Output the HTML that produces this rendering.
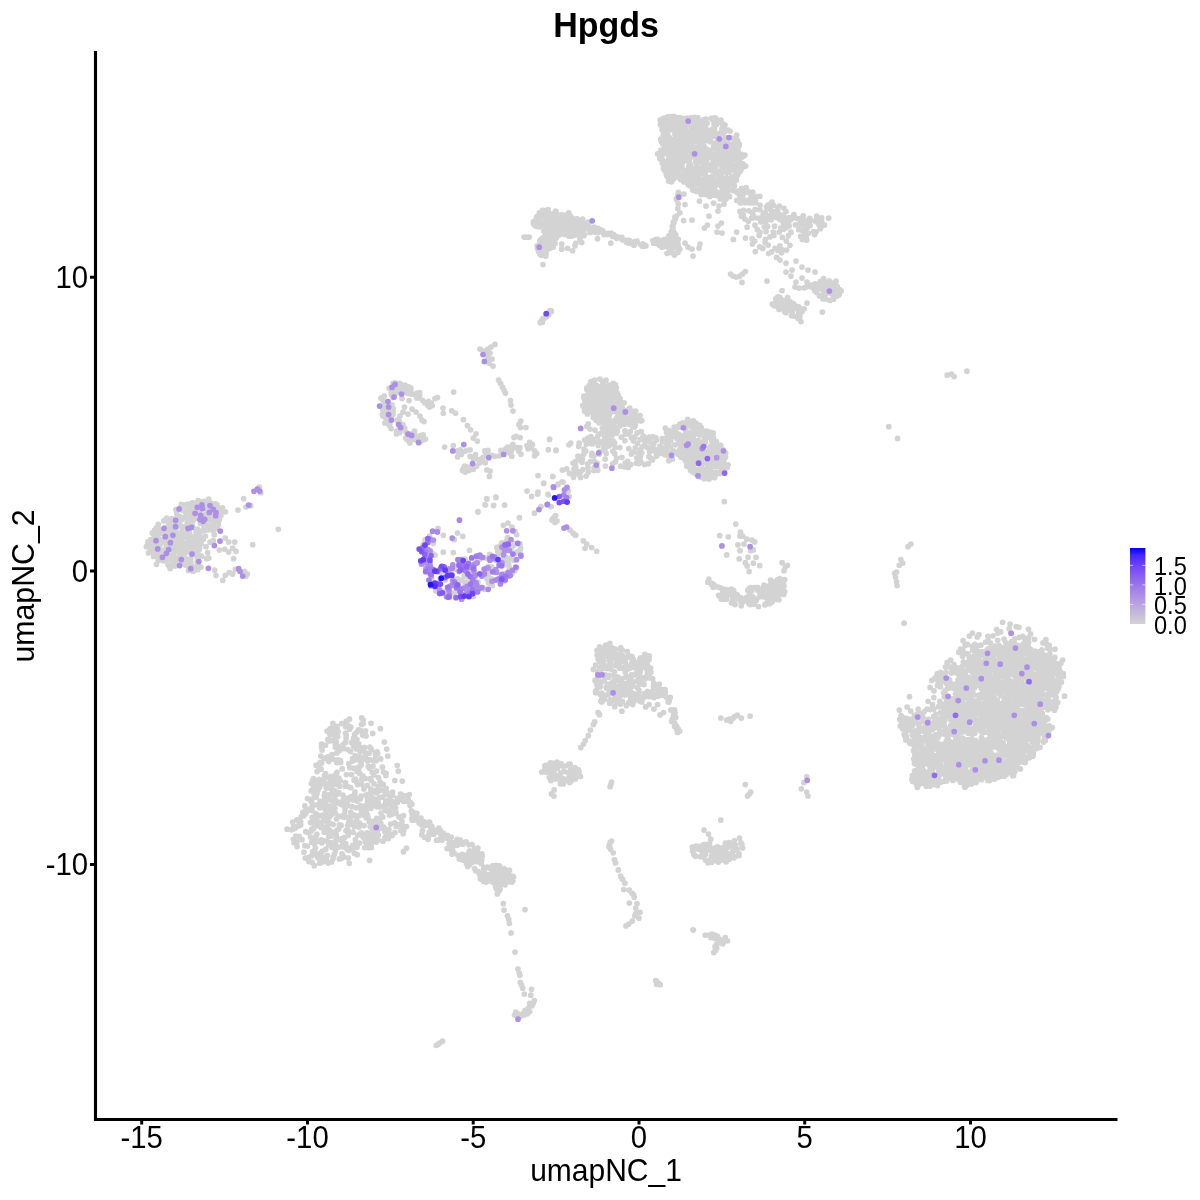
<!DOCTYPE html>
<html><head><meta charset="utf-8"><title>Hpgds</title>
<style>
html,body{margin:0;padding:0;background:#fff;}
body{width:1200px;height:1200px;overflow:hidden;font-family:"Liberation Sans",sans-serif;}
svg{display:block;}
text{font-family:"Liberation Sans",sans-serif;fill:#000;}
</style></head><body>
<svg width="1200" height="1200" viewBox="0 0 1200 1200">
<defs><linearGradient id="lg" x1="0" y1="1" x2="0" y2="0">
<stop offset="0" stop-color="#d3d3d3"/><stop offset="0.128" stop-color="#c8bbda"/><stop offset="0.256" stop-color="#bba4e1"/><stop offset="0.385" stop-color="#ac8ce7"/><stop offset="0.513" stop-color="#9b75ec"/><stop offset="0.641" stop-color="#875df2"/><stop offset="0.769" stop-color="#6e44f7"/><stop offset="0.897" stop-color="#4a27fb"/><stop offset="1" stop-color="#0000ff"/>
</linearGradient></defs>
<rect width="1200" height="1200" fill="#fff"/>
<g id="dots" fill="none" stroke-width="5.75" stroke-linecap="round">
<path stroke="#d3d3d3" d="M726.2 171.6h0M665.8 144.4h0M698.6 160.0h0M716.7 145.3h0M700.5 131.5h0M716.3 133.6h0M697.8 117.5h0M743.7 155.9h0M698.1 175.4h0M694.0 190.4h0M698.7 183.8h0M672.7 174.1h0M666.7 127.8h0M665.3 141.0h0M705.8 130.7h0M683.0 141.5h0M712.1 191.0h0M734.4 139.3h0M697.8 155.7h0M682.0 142.3h0M669.7 170.1h0M663.7 139.1h0M727.6 192.4h0M690.0 131.7h0M735.3 168.4h0M701.8 142.5h0M687.9 139.1h0M725.1 155.1h0M724.2 188.6h0M736.4 179.9h0M693.9 141.8h0M707.0 164.8h0M671.7 155.8h0M741.5 154.3h0M674.9 143.6h0M668.9 137.0h0M721.7 168.3h0M671.1 179.9h0M739.2 164.8h0M720.9 132.6h0M711.5 167.3h0M678.1 126.4h0M725.7 159.6h0M696.0 155.1h0M726.8 186.0h0M693.2 180.6h0M745.6 166.1h0M736.1 172.2h0M676.5 150.3h0M734.1 182.3h0M723.0 126.0h0M705.5 193.4h0M712.2 176.4h0M718.6 179.7h0M674.5 165.8h0M678.0 123.3h0M740.7 155.7h0M711.9 129.6h0M682.8 169.5h0M682.4 179.8h0M730.4 152.7h0M693.1 128.6h0M680.2 120.5h0M722.7 183.2h0M733.2 178.9h0M669.9 155.2h0M696.1 157.7h0M719.7 173.2h0M719.8 195.2h0M728.5 180.6h0M694.8 185.7h0M664.9 171.0h0M702.9 132.4h0M690.2 181.0h0M716.3 149.3h0M719.0 177.7h0M696.8 191.4h0M696.9 130.3h0M720.4 183.0h0M680.5 179.4h0M684.8 120.5h0M701.0 151.5h0M689.0 124.8h0M694.8 149.7h0M676.7 144.1h0M705.2 151.4h0M732.9 168.4h0M667.4 153.5h0M715.5 172.7h0M665.1 152.3h0M700.4 192.4h0M671.2 147.0h0M676.6 158.4h0M720.7 171.6h0M668.7 175.7h0M714.2 195.1h0M713.9 122.2h0M718.2 142.9h0M706.9 153.2h0M726.1 198.8h0M687.7 176.4h0M737.6 146.4h0M737.6 167.7h0M684.9 127.1h0M688.9 170.2h0M707.7 169.4h0M713.3 168.0h0M744.9 155.0h0M662.1 129.7h0M676.8 177.0h0M725.2 183.9h0M695.5 162.1h0M711.2 187.7h0M680.9 164.8h0M727.2 145.9h0M722.6 163.7h0M689.7 158.6h0M703.8 185.1h0M684.5 129.1h0M732.9 149.3h0M731.8 158.2h0M687.0 130.8h0M687.5 133.6h0M701.1 155.6h0M708.4 130.6h0M702.9 129.7h0M665.5 123.8h0M727.4 184.4h0M673.9 172.6h0M666.1 148.5h0M704.6 121.7h0M694.8 122.0h0M722.2 123.4h0M686.6 175.4h0M660.6 153.9h0M683.2 176.9h0M697.2 173.3h0M661.5 160.1h0M675.9 122.0h0M721.3 156.1h0M694.5 130.5h0M734.8 148.5h0M740.0 163.0h0M720.9 120.1h0M668.7 157.5h0M717.7 140.7h0M678.8 137.1h0M663.2 153.6h0M715.3 168.2h0M686.0 152.0h0M671.3 139.3h0M698.2 179.1h0M720.9 192.9h0M684.6 131.7h0M698.0 124.7h0M694.9 179.3h0M706.2 188.4h0M717.3 192.5h0M687.2 143.6h0M708.3 158.0h0M670.0 138.8h0M678.7 147.7h0M703.9 182.8h0M735.9 139.4h0M666.1 153.4h0M692.6 189.7h0M726.9 172.7h0M699.7 145.8h0M685.2 180.6h0M667.5 116.8h0M702.1 125.9h0M697.3 158.3h0M696.3 181.0h0M730.8 162.5h0M720.9 159.6h0M706.0 182.1h0M707.8 136.1h0M659.8 156.9h0M666.7 168.5h0M686.3 137.6h0M708.3 185.6h0M726.7 179.7h0M712.7 186.7h0M733.6 176.6h0M686.0 142.2h0M717.3 151.0h0M698.9 150.4h0M713.2 162.4h0M673.4 140.2h0M721.6 173.3h0M681.9 159.4h0M689.3 156.6h0M674.7 125.0h0M672.9 163.2h0M724.4 199.8h0M721.6 186.8h0M681.6 150.2h0M705.1 179.6h0M690.0 138.1h0M682.8 134.1h0M705.7 156.6h0M671.6 181.8h0M679.5 117.7h0M672.6 146.8h0M718.8 157.1h0M704.8 192.1h0M720.5 198.9h0M674.9 134.0h0M702.5 190.8h0M673.2 169.7h0M727.9 186.7h0M696.8 119.4h0M723.3 155.8h0M711.1 131.7h0M721.4 176.7h0M667.4 176.6h0M735.6 165.2h0M671.3 165.3h0M702.6 194.2h0M733.9 143.7h0M709.5 195.0h0M733.2 164.5h0M699.5 134.3h0M676.6 127.9h0M708.1 187.5h0M711.0 150.4h0M680.6 137.4h0M741.2 164.9h0M707.5 156.7h0M739.6 160.4h0M700.5 181.3h0M715.2 181.4h0M699.1 125.3h0M730.4 149.0h0M702.5 188.2h0M666.9 143.5h0M690.1 148.5h0M693.2 148.0h0M739.2 172.0h0M717.6 119.9h0M737.9 172.7h0M716.8 162.9h0M719.5 192.5h0M710.3 140.6h0M685.2 176.7h0M690.2 165.0h0M676.6 142.0h0M727.6 167.1h0M704.2 129.9h0M680.5 178.0h0M727.1 194.9h0M703.5 119.8h0M735.8 176.4h0M690.4 135.1h0M730.7 144.8h0M671.1 159.0h0M686.5 177.9h0M737.5 140.6h0M684.7 118.7h0M709.5 141.6h0M714.7 135.4h0M699.7 121.1h0M672.2 161.7h0M697.5 148.6h0M708.4 150.9h0M708.3 178.2h0M716.6 124.5h0M726.2 144.9h0M705.9 168.2h0M688.8 175.3h0M709.8 196.4h0M682.1 118.3h0M690.6 179.7h0M664.8 131.0h0M660.2 120.1h0M693.5 183.4h0M668.6 177.9h0M668.2 171.2h0M678.1 170.5h0M678.9 146.2h0M683.3 151.9h0M686.8 119.8h0M682.1 163.4h0M666.9 123.1h0M667.9 135.7h0M742.0 167.9h0M734.4 186.1h0M697.1 125.5h0M667.1 132.7h0M715.1 161.0h0M738.1 152.4h0M687.2 160.9h0M688.1 178.7h0M684.9 148.3h0M702.9 158.0h0M697.4 136.9h0M707.5 193.2h0M675.3 152.9h0M717.8 174.5h0M688.5 166.5h0M704.9 149.7h0M703.8 180.4h0M707.1 177.0h0M743.7 166.0h0M693.1 135.6h0M705.4 186.9h0M692.2 173.9h0M724.2 160.1h0M721.6 180.8h0M724.7 151.4h0M663.3 168.4h0M721.3 194.9h0M725.1 143.4h0M684.6 157.0h0M724.3 127.2h0M702.8 135.3h0M676.4 119.4h0M713.7 145.9h0M673.7 123.8h0M712.0 154.0h0M692.6 124.4h0M732.4 144.0h0M702.0 172.9h0M695.7 141.1h0M722.5 165.7h0M691.3 172.0h0M681.7 175.5h0M713.8 118.2h0M739.2 145.6h0M702.4 171.1h0M704.1 133.1h0M694.2 168.1h0M687.2 154.4h0M729.1 172.3h0M707.0 180.7h0M663.2 135.6h0M685.8 171.0h0M710.9 166.0h0M689.2 161.7h0M729.7 161.2h0M722.4 133.9h0M691.4 117.7h0M671.3 163.3h0M724.3 181.8h0M705.6 171.9h0M722.6 140.4h0M713.7 147.7h0M676.2 167.2h0M701.3 139.9h0M689.8 122.0h0M703.6 125.1h0M666.5 138.9h0M707.1 123.1h0M727.9 155.0h0M702.1 148.5h0M660.7 150.4h0M696.5 163.7h0M711.4 189.6h0M679.9 135.0h0M714.3 167.1h0M670.1 164.2h0M734.9 171.3h0M731.3 182.9h0M657.6 153.8h0M663.6 151.5h0M664.4 122.4h0M678.3 135.1h0M677.6 146.1h0M731.9 177.0h0M700.5 158.5h0M732.7 151.2h0M714.5 128.9h0M715.1 120.5h0M713.3 179.5h0M692.7 154.8h0M685.6 172.5h0M717.9 152.9h0M671.4 154.1h0M714.3 185.9h0M714.0 165.2h0M694.6 136.9h0M705.2 148.0h0M698.8 161.9h0M660.4 124.7h0M670.2 144.9h0M672.0 171.8h0M739.1 167.5h0M726.0 188.5h0M662.1 139.2h0M720.6 181.5h0M732.5 183.7h0M671.4 157.5h0M706.6 138.0h0M693.7 127.3h0M688.1 184.4h0M668.7 181.0h0M675.2 117.7h0M713.0 136.2h0M714.2 126.1h0M708.8 132.5h0M729.5 196.7h0M661.4 141.8h0M676.7 154.9h0M729.9 189.4h0M724.8 131.6h0M663.5 132.2h0M675.7 147.2h0M663.9 118.2h0M682.0 137.6h0M675.9 157.1h0M730.3 146.4h0M721.8 197.6h0M679.4 132.9h0M725.7 186.5h0M717.5 195.8h0M663.4 125.2h0M695.0 147.5h0M735.9 142.8h0M713.0 177.9h0M726.5 148.2h0M681.9 165.8h0M701.1 188.1h0M737.3 164.7h0M695.6 131.3h0M665.9 161.8h0M725.7 167.0h0M677.0 129.6h0M711.8 170.4h0M709.6 168.5h0M705.0 176.5h0M697.0 176.9h0M734.5 155.1h0M722.6 190.0h0M677.2 163.8h0M664.5 166.5h0M699.0 122.7h0M692.1 138.6h0M722.7 171.7h0M697.3 142.1h0M698.2 182.0h0M712.5 157.8h0M699.6 178.6h0M671.6 124.5h0M739.2 144.0h0M723.9 193.0h0M699.4 172.2h0M665.3 146.2h0M720.1 141.9h0M707.2 182.4h0M709.3 181.0h0M710.8 154.6h0M723.6 157.9h0M729.6 179.7h0M701.0 183.6h0M692.5 130.8h0M720.5 152.1h0M726.5 178.1h0M697.8 139.0h0M669.5 148.9h0M701.3 130.5h0M721.1 148.8h0M732.3 155.9h0M728.3 162.6h0M692.9 146.6h0M682.6 157.1h0M671.1 129.5h0M670.5 116.7h0M678.3 174.4h0M676.1 168.9h0M688.9 152.9h0M736.6 135.2h0M738.6 159.1h0M725.0 124.8h0M660.7 139.1h0M727.2 151.8h0M688.3 148.9h0M692.5 178.0h0M716.1 123.0h0M670.4 173.8h0M735.4 147.4h0M722.0 130.3h0M701.2 134.4h0M674.1 128.9h0M727.5 181.3h0M672.0 140.6h0M730.1 131.1h0M698.4 129.4h0M725.7 137.5h0M681.5 138.9h0M680.1 118.9h0M681.2 176.9h0M695.3 128.3h0M701.3 194.6h0M731.8 138.0h0M706.9 191.3h0M662.2 119.2h0M697.3 160.0h0M706.5 140.4h0M674.0 149.8h0M664.7 142.2h0M713.4 143.0h0M728.4 189.2h0M670.0 124.6h0M694.6 119.6h0M717.7 171.7h0M660.8 121.7h0M681.4 130.7h0M704.4 134.3h0M729.0 164.9h0M737.3 155.3h0M663.9 128.1h0M711.1 180.3h0M711.6 181.9h0M690.0 119.8h0M662.8 143.9h0M679.8 141.5h0M728.2 130.1h0M666.9 141.4h0M738.4 157.5h0M716.9 184.8h0M724.9 157.8h0M668.5 121.8h0M740.6 170.8h0M737.6 174.8h0M738.0 149.9h0M675.8 159.6h0M669.9 157.7h0M677.2 139.4h0M691.9 121.0h0M706.5 194.7h0M688.1 119.2h0M719.6 174.5h0M671.3 144.3h0M706.7 184.7h0M705.5 152.7h0M715.1 117.9h0M698.4 190.2h0M681.2 156.7h0M711.4 118.3h0M680.2 153.1h0M699.4 168.3h0M673.5 144.0h0M670.1 178.0h0M691.4 126.7h0M724.0 179.8h0M679.7 163.2h0M662.1 126.2h0M721.0 164.0h0M676.5 120.7h0M664.4 148.2h0M668.2 173.3h0M664.0 134.1h0M670.7 162.0h0M710.9 184.9h0M722.0 128.6h0M732.1 181.2h0M706.4 161.7h0M694.3 133.8h0M692.8 137.3h0M715.3 190.6h0M659.8 158.5h0M682.0 125.7h0M683.3 123.3h0M687.2 145.0h0M725.6 196.4h0M668.2 167.0h0M683.9 181.8h0M723.1 178.1h0M691.6 150.7h0M675.7 171.6h0M716.0 165.6h0M693.5 156.6h0M716.8 154.0h0M720.0 145.3h0M687.4 118.0h0M697.1 134.5h0M665.4 126.4h0M722.7 151.7h0M687.1 156.7h0M706.9 149.7h0M712.3 163.8h0M679.9 156.5h0M683.8 149.3h0M743.0 163.8h0M684.2 175.1h0M680.5 169.8h0M673.9 116.4h0M705.5 169.5h0M702.4 183.6h0M676.8 117.7h0M673.3 153.3h0M721.3 144.7h0M713.4 181.5h0M717.2 181.2h0M716.2 171.5h0M705.2 157.8h0M666.4 175.0h0M727.8 143.1h0M722.9 144.0h0M673.4 179.0h0M695.2 170.1h0M694.0 188.2h0M689.7 185.7h0M705.6 127.1h0M717.1 137.0h0M702.8 165.6h0M694.9 152.5h0M700.5 153.8h0M711.2 195.2h0M735.6 159.2h0M742.2 156.9h0M704.2 160.7h0M672.7 159.3h0M691.6 142.0h0M684.9 125.4h0M701.1 123.0h0M671.2 120.4h0M695.9 175.7h0M729.7 151.4h0M716.4 156.0h0M734.6 180.8h0M705.9 119.1h0M718.0 155.0h0M738.3 169.1h0M733.3 190.7h0M681.9 145.4h0M730.4 163.7h0M675.0 138.3h0M731.3 169.0h0M668.2 164.4h0M723.5 146.8h0M701.6 159.6h0M698.1 126.8h0M712.9 119.9h0M697.8 140.8h0M694.3 117.3h0M662.3 163.2h0M662.1 158.6h0M703.9 145.8h0M722.2 161.5h0M808.5 233.3h0M773.3 217.0h0M806.2 224.7h0M824.4 225.0h0M798.3 226.3h0M752.4 213.1h0M758.9 218.2h0M741.4 216.2h0M819.6 219.0h0M746.6 191.8h0M753.7 216.2h0M793.9 214.6h0M766.4 206.9h0M783.2 215.3h0M803.2 230.7h0M740.1 191.4h0M779.8 214.6h0M798.8 229.7h0M740.2 198.5h0M804.3 221.3h0M740.2 200.7h0M797.2 218.6h0M804.7 235.1h0M750.4 193.8h0M783.4 224.8h0M777.8 207.4h0M746.2 187.7h0M802.3 239.5h0M780.1 219.5h0M738.5 190.9h0M737.3 192.6h0M814.5 234.5h0M766.1 218.8h0M821.7 222.8h0M759.9 196.3h0M809.7 218.3h0M790.7 219.6h0M786.8 218.0h0M804.9 229.1h0M804.9 226.1h0M801.4 218.0h0M807.3 227.8h0M759.9 209.6h0M769.0 215.9h0M741.8 199.5h0M739.2 194.6h0M800.6 236.3h0M748.9 210.8h0M779.1 217.9h0M749.2 202.8h0M744.9 219.1h0M789.1 225.9h0M816.1 231.8h0M802.2 222.6h0M784.0 208.3h0M819.1 223.0h0M803.4 224.5h0M817.0 222.0h0M795.4 224.8h0M742.6 195.4h0M816.7 216.0h0M755.2 202.7h0M777.1 214.8h0M808.0 220.2h0M763.4 217.5h0M763.8 213.0h0M771.1 219.8h0M806.4 220.9h0M768.2 218.9h0M785.8 221.5h0M752.6 202.9h0M813.6 231.6h0M783.2 218.0h0M777.7 210.2h0M765.3 212.3h0M736.8 200.4h0M815.2 220.9h0M779.4 206.0h0M788.5 223.6h0M820.3 228.8h0M800.2 220.1h0M773.3 205.2h0M810.0 225.7h0M777.4 217.8h0M751.6 218.0h0M743.3 214.9h0M773.1 211.7h0M739.9 211.4h0M789.4 217.5h0M741.8 188.4h0M801.1 230.0h0M785.0 223.5h0M745.6 202.7h0M786.0 211.5h0M828.7 218.1h0M806.6 240.2h0M755.5 200.7h0M803.3 215.8h0M800.1 223.9h0M752.8 192.1h0M792.0 218.5h0M756.6 196.6h0M750.2 199.1h0M752.6 196.7h0M755.1 209.4h0M806.3 238.6h0M748.3 200.0h0M819.0 224.8h0M809.2 222.8h0M819.0 221.2h0M748.3 221.3h0M805.3 231.8h0M769.8 205.5h0M754.5 217.7h0M789.0 219.5h0M744.1 200.0h0M742.2 212.8h0M740.9 193.9h0M768.2 204.8h0M821.7 217.9h0M822.3 225.7h0M767.4 208.7h0M786.1 227.8h0M772.0 202.1h0M782.8 220.5h0M740.6 202.9h0M763.1 214.8h0M786.9 223.1h0M743.5 193.4h0M760.1 205.1h0M748.5 191.7h0M743.5 210.3h0M771.3 214.7h0M771.4 210.6h0M810.4 220.2h0M770.0 236.9h0M755.0 225.2h0M768.2 245.0h0M775.1 248.3h0M765.8 221.9h0M755.3 251.5h0M765.1 242.6h0M777.8 250.3h0M752.1 238.6h0M776.6 257.4h0M786.4 241.0h0M766.0 231.6h0M783.9 224.1h0M779.9 245.8h0M774.5 226.2h0M771.5 251.9h0M765.4 239.3h0M768.6 253.5h0M747.1 227.2h0M781.6 252.8h0M783.6 229.2h0M789.9 245.3h0M767.6 226.3h0M788.5 235.7h0M760.8 221.8h0M762.8 248.4h0M773.4 232.1h0M779.2 232.1h0M781.8 249.5h0M752.5 244.1h0M782.4 237.4h0M754.7 241.0h0M757.3 229.7h0M759.7 246.9h0M764.3 226.9h0M760.0 232.3h0M786.6 250.1h0M791.0 232.2h0M759.1 235.4h0M773.9 235.4h0M745.5 238.0h0M780.7 228.1h0M699.4 201.0h0M706.0 206.0h0M713.6 203.0h0M719.0 206.0h0M724.0 204.0h0M718.0 211.0h0M709.0 216.0h0M721.4 223.0h0M718.0 226.0h0M707.4 225.0h0M704.4 228.0h0M717.0 232.0h0M722.0 233.0h0M736.6 232.0h0M733.4 239.4h0M684.0 194.0h0M685.0 204.6h0M683.6 220.6h0M692.0 220.0h0M679.9 212.8h0M673.0 225.0h0M672.7 231.4h0M673.4 221.8h0M673.1 230.2h0M676.5 216.0h0M678.6 194.4h0M677.8 208.5h0M677.7 198.0h0M669.7 239.0h0M678.4 192.3h0M671.9 238.0h0M674.0 222.6h0M672.9 226.5h0M676.3 198.8h0M678.8 194.3h0M674.9 217.2h0M676.7 199.7h0M672.3 226.5h0M669.9 236.2h0M675.6 218.6h0M678.2 204.1h0M676.9 199.8h0M677.8 195.0h0M667.0 253.4h0M662.0 247.2h0M665.7 244.6h0M674.6 247.2h0M673.6 237.9h0M668.6 239.4h0M672.0 243.7h0M670.6 252.6h0M659.7 245.4h0M674.8 245.3h0M674.9 233.5h0M677.9 243.6h0M656.3 243.3h0M677.1 241.7h0M662.5 241.3h0M652.9 240.6h0M668.8 247.7h0M678.3 239.3h0M672.4 247.0h0M675.1 241.7h0M675.0 237.0h0M670.0 237.4h0M664.0 239.5h0M665.6 241.1h0M669.8 246.0h0M671.3 231.5h0M668.3 237.4h0M668.6 244.5h0M657.5 239.4h0M658.0 243.9h0M676.1 252.9h0M671.0 250.5h0M672.9 228.4h0M658.3 242.1h0M675.8 235.1h0M669.8 240.5h0M653.7 243.3h0M678.3 246.0h0M672.7 235.5h0M679.8 249.2h0M665.0 243.0h0M669.2 235.6h0M662.8 244.3h0M660.9 242.7h0M674.4 255.1h0M664.0 246.6h0M659.0 240.0h0M673.1 233.4h0M677.9 252.4h0M655.6 239.7h0M685.0 243.0h0M688.0 247.0h0M692.0 249.0h0M700.0 244.0h0M699.0 248.0h0M693.0 256.0h0M780.0 260.0h0M786.0 263.0h0M796.0 261.0h0M792.0 270.0h0M786.0 272.0h0M802.0 267.0h0M808.0 270.0h0M815.0 272.0h0M791.0 276.0h0M802.0 278.0h0M807.0 282.0h0M796.0 282.0h0M795.0 287.0h0M799.0 288.0h0M829.9 300.4h0M825.4 294.2h0M833.4 297.1h0M838.7 291.3h0M819.8 285.2h0M825.1 282.1h0M822.7 285.3h0M822.6 282.8h0M822.7 297.2h0M827.9 287.8h0M825.5 298.9h0M831.0 293.3h0M833.4 299.2h0M831.3 286.9h0M825.9 290.0h0M823.0 280.2h0M818.5 289.0h0M824.9 295.7h0M839.1 294.7h0M819.5 295.8h0M823.6 278.7h0M827.7 292.3h0M823.1 298.9h0M821.1 295.5h0M824.8 286.8h0M834.2 290.3h0M835.2 294.8h0M831.5 283.1h0M823.1 294.3h0M837.2 286.5h0M821.1 287.2h0M834.2 288.4h0M839.7 289.5h0M837.0 296.0h0M831.9 285.2h0M832.1 291.4h0M828.1 284.6h0M819.7 286.6h0M829.6 284.1h0M824.5 289.0h0M836.1 281.2h0M841.1 290.9h0M834.7 293.2h0M823.1 289.5h0M833.5 282.8h0M829.2 280.8h0M820.3 281.7h0M817.6 287.4h0M805.7 287.3h0M804.2 287.8h0M816.8 292.4h0M815.1 283.8h0M811.6 287.0h0M809.8 284.9h0M807.0 286.4h0M816.4 285.4h0M813.3 285.1h0M814.7 290.7h0M793.8 316.1h0M785.8 312.7h0M788.3 306.6h0M776.0 305.9h0M777.5 304.7h0M791.5 308.4h0M794.1 308.4h0M779.1 307.3h0M777.9 296.8h0M792.2 312.7h0M799.9 316.6h0M787.5 304.9h0M789.4 310.2h0M798.0 318.3h0M781.8 307.6h0M792.4 310.0h0M794.9 307.0h0M792.8 303.3h0M773.9 305.5h0M784.6 311.5h0M786.1 308.8h0M787.8 301.5h0M775.7 298.9h0M780.0 300.3h0M798.8 313.0h0M776.2 300.9h0M777.5 299.8h0M779.0 309.4h0M798.5 306.6h0M804.1 308.8h0M799.4 308.2h0M779.1 299.0h0M794.2 304.6h0M798.6 310.3h0M779.9 301.8h0M782.9 300.3h0M791.5 315.5h0M798.6 315.5h0M775.2 304.5h0M782.3 304.3h0M789.9 301.7h0M779.9 297.3h0M790.5 304.1h0M801.9 311.8h0M785.4 310.1h0M786.0 304.4h0M772.3 304.1h0M797.9 308.4h0M782.0 290.6h0M787.6 297.6h0M807.0 303.0h0M822.4 312.0h0M801.0 321.6h0M730.6 274.0h0M733.0 276.0h0M736.0 277.0h0M739.4 276.4h0M742.4 274.0h0M745.4 271.6h0M742.0 282.4h0M767.0 281.0h0M548.5 221.1h0M562.1 224.6h0M546.0 222.9h0M545.5 241.3h0M558.4 228.7h0M595.1 232.0h0M553.5 238.2h0M577.3 233.1h0M565.5 230.3h0M567.6 224.3h0M550.6 232.9h0M551.5 216.4h0M549.4 244.7h0M560.5 229.6h0M536.6 217.1h0M546.3 245.4h0M552.2 213.9h0M546.7 229.7h0M538.6 251.5h0M551.5 234.5h0M578.3 230.6h0M542.6 210.3h0M575.0 231.4h0M551.2 222.6h0M577.9 224.8h0M562.5 229.0h0M566.6 234.5h0M537.0 221.3h0M592.8 230.8h0M566.1 216.0h0M549.6 217.1h0M541.4 255.3h0M558.6 223.8h0M568.3 221.2h0M576.7 223.6h0M570.4 236.2h0M589.3 229.2h0M557.8 226.3h0M548.1 209.7h0M551.4 236.1h0M563.3 233.8h0M544.4 216.6h0M560.8 218.7h0M570.4 226.3h0M549.1 220.1h0M592.9 229.2h0M590.1 232.6h0M549.0 228.8h0M555.0 243.4h0M565.1 228.4h0M581.7 229.7h0M545.0 236.0h0M539.1 223.3h0M545.9 218.5h0M570.6 216.3h0M533.3 223.5h0M548.0 248.9h0M555.4 234.9h0M564.5 215.4h0M545.5 220.8h0M572.3 224.2h0M581.5 227.9h0M562.4 232.8h0M588.0 222.2h0M547.4 236.9h0M566.3 217.2h0M584.6 234.6h0M582.7 219.0h0M545.1 244.7h0M577.2 218.8h0M540.6 244.2h0M540.4 217.7h0M556.4 216.2h0M538.8 225.1h0M572.9 232.0h0M554.9 228.4h0M566.7 215.0h0M564.4 223.7h0M569.6 219.5h0M541.7 242.7h0M582.9 231.7h0M554.2 224.1h0M562.7 215.2h0M548.2 240.1h0M598.9 229.7h0M582.6 227.4h0M559.1 225.7h0M598.0 232.5h0M540.4 246.2h0M569.7 234.8h0M550.1 248.0h0M533.4 222.1h0M572.9 235.8h0M570.9 223.5h0M555.3 230.0h0M535.9 222.2h0M537.5 248.2h0M558.0 230.2h0M552.9 229.3h0M573.6 218.8h0M556.6 213.9h0M566.3 228.8h0M541.2 226.5h0M543.9 231.3h0M560.2 221.7h0M545.4 243.4h0M557.6 223.0h0M540.0 254.3h0M583.9 223.8h0M560.0 226.5h0M561.1 214.9h0M540.3 250.3h0M576.6 234.9h0M539.7 248.2h0M578.8 222.7h0M550.2 246.2h0M570.7 228.6h0M545.4 217.2h0M554.7 239.2h0M578.2 235.0h0M568.4 233.7h0M540.5 223.1h0M549.4 224.6h0M554.2 242.1h0M588.7 223.4h0M541.6 245.2h0M569.9 224.4h0M543.4 245.7h0M564.4 222.1h0M555.7 211.1h0M549.5 215.6h0M549.3 239.6h0M594.1 227.0h0M555.7 236.9h0M556.4 218.1h0M539.3 226.8h0M576.6 228.7h0M551.3 221.4h0M541.1 215.3h0M559.5 230.4h0M596.2 230.6h0M552.8 221.3h0M579.7 234.2h0M545.1 224.0h0M595.0 228.8h0M546.6 246.6h0M581.0 227.0h0M568.5 231.0h0M561.5 226.9h0M545.2 249.9h0M587.8 224.8h0M591.1 228.2h0M540.8 239.7h0M567.6 229.1h0M544.9 232.7h0M542.4 238.2h0M557.0 229.6h0M569.5 221.4h0M575.0 229.0h0M534.4 221.2h0M554.5 215.3h0M558.4 216.9h0M555.6 212.7h0M582.5 225.0h0M544.6 212.3h0M537.3 216.3h0M560.5 233.6h0M568.8 212.9h0M553.2 247.0h0M564.3 231.1h0M546.4 239.1h0M565.9 222.8h0M564.6 234.4h0M550.1 228.0h0M538.6 217.6h0M583.8 235.7h0M536.6 226.3h0M534.9 225.4h0M558.9 235.0h0M541.2 253.8h0M546.6 228.5h0M545.6 214.7h0M553.1 240.1h0M542.6 247.4h0M544.1 243.3h0M539.4 212.8h0M539.9 240.9h0M550.1 242.2h0M587.6 226.8h0M575.1 234.2h0M584.7 228.0h0M553.2 243.5h0M556.5 237.7h0M538.3 250.0h0M560.0 219.5h0M545.7 256.0h0M591.6 230.0h0M581.0 231.8h0M598.1 228.3h0M567.9 216.3h0M547.1 244.2h0M588.1 229.0h0M568.7 236.1h0M549.5 231.2h0M562.6 231.0h0M544.5 210.6h0M554.1 230.8h0M546.8 211.5h0M537.2 245.8h0M546.1 254.1h0M524.2 237.0h0M526.7 237.2h0M529.2 237.0h0M543.0 264.5h0M561.7 244.2h0M561.7 249.2h0M567.5 248.3h0M572.5 250.8h0M575.0 245.8h0M575.8 243.3h0M580.0 239.2h0M581.7 242.5h0M597.5 238.7h0M610.8 243.0h0M603.9 234.5h0M621.8 237.3h0M616.8 238.3h0M613.7 234.5h0M600.9 229.9h0M617.6 237.9h0M614.5 235.8h0M611.9 235.0h0M643.0 244.6h0M617.6 236.9h0M626.3 241.5h0M644.5 245.4h0M622.9 239.6h0M600.6 231.0h0M637.0 241.2h0M603.2 232.4h0M625.6 240.3h0M640.6 244.5h0M631.5 243.5h0M645.9 245.8h0M629.6 240.5h0M629.0 243.2h0M608.1 233.4h0M614.7 235.9h0M645.3 245.4h0M642.2 246.0h0M626.4 242.0h0M622.3 239.8h0M626.4 242.2h0M634.9 243.1h0M601.7 231.4h0M627.5 242.4h0M628.1 240.3h0M601.8 230.3h0M633.3 242.2h0M615.9 237.6h0M611.3 233.2h0M609.9 233.6h0M634.8 241.7h0M629.5 242.2h0M612.6 236.4h0M613.0 235.2h0M603.0 231.2h0M634.0 245.3h0M607.6 234.6h0M644.1 246.3h0M604.9 233.7h0M642.7 243.9h0M543.7 318.7h0M546.3 314.4h0M543.1 318.4h0M551.0 310.6h0M547.3 314.4h0M547.1 315.8h0M551.3 311.5h0M548.4 313.3h0M548.6 314.8h0M546.5 316.4h0M540.3 322.8h0M545.2 317.2h0M549.8 310.6h0M541.6 320.3h0M541.1 322.0h0M546.0 316.2h0M542.3 322.2h0M540.3 322.4h0M480.0 349.0h0M484.0 351.0h0M488.0 349.0h0M491.0 347.0h0M495.0 344.4h0M490.0 353.0h0M492.0 359.0h0M489.0 363.0h0M493.0 366.0h0M488.0 358.0h0M486.0 354.0h0M498.6 380.0h0M500.6 383.6h0M502.4 387.0h0M504.0 390.0h0M505.4 393.0h0M510.4 400.6h0M511.0 405.0h0M513.0 411.0h0M453.6 392.0h0M392.0 404.8h0M391.6 395.0h0M397.9 392.4h0M399.7 432.7h0M391.9 387.1h0M396.5 433.9h0M402.9 424.5h0M386.0 407.5h0M391.7 410.5h0M414.5 436.4h0M401.3 425.5h0M391.1 428.6h0M385.0 403.6h0M420.6 435.7h0M422.8 437.7h0M384.0 408.3h0M389.0 421.2h0M391.2 419.1h0M409.8 442.9h0M388.3 412.6h0M385.7 406.0h0M381.3 406.2h0M384.0 416.6h0M392.5 393.6h0M396.8 431.2h0M389.8 424.1h0M407.2 439.7h0M399.4 421.4h0M398.1 390.3h0M389.4 425.5h0M392.9 412.4h0M386.2 402.1h0M400.2 431.3h0M422.6 440.1h0M382.9 409.9h0M386.0 421.2h0M395.8 389.5h0M414.6 439.4h0M415.0 435.2h0M388.4 406.5h0M421.0 440.5h0M398.0 432.4h0M385.1 411.9h0M410.5 435.9h0M418.6 442.7h0M389.2 388.3h0M384.9 422.9h0M387.2 420.9h0M411.6 439.0h0M404.7 428.2h0M390.5 408.8h0M391.7 407.5h0M406.1 432.3h0M382.4 414.3h0M400.1 426.7h0M396.6 384.1h0M395.2 382.9h0M385.8 408.9h0M419.9 437.4h0M409.2 437.6h0M380.9 398.1h0M397.0 420.2h0M394.3 395.3h0M405.7 438.1h0M418.0 438.6h0M390.3 421.1h0M409.9 433.9h0M423.1 434.8h0M393.0 397.6h0M382.8 400.0h0M391.2 393.2h0M384.3 410.1h0M393.2 408.6h0M393.1 414.5h0M393.1 383.3h0M394.5 392.3h0M382.7 415.8h0M386.7 417.8h0M384.3 396.1h0M419.9 441.4h0M407.9 390.7h0M412.7 394.2h0M402.5 386.8h0M406.3 392.3h0M405.0 385.2h0M416.8 397.9h0M432.2 405.5h0M407.6 393.3h0M410.7 391.2h0M424.8 402.8h0M428.0 405.4h0M411.1 394.0h0M417.3 393.2h0M399.7 383.4h0M419.6 392.5h0M408.8 386.8h0M410.9 388.0h0M428.6 401.3h0M401.9 388.6h0M422.8 400.5h0M429.4 407.1h0M401.3 384.5h0M419.7 395.8h0M399.7 385.5h0M418.4 398.1h0M431.2 403.0h0M403.6 388.9h0M407.1 386.5h0M435.0 398.5h0M437.5 397.5h0M402.0 398.5h0M409.0 400.5h0M404.5 407.0h0M403.0 412.0h0M408.0 414.0h0M412.0 409.0h0M416.0 412.0h0M420.0 416.0h0M422.0 420.0h0M424.0 421.5h0M400.0 416.0h0M414.5 431.0h0M422.5 435.0h0M425.5 439.0h0M444.6 447.1h0M453.3 445.5h0M457.1 450.9h0M460.3 449.8h0M462.5 452.0h0M465.8 450.9h0M470.1 449.8h0M459.3 454.2h0M457.6 456.9h0M461.4 454.2h0M470.1 456.3h0M475.5 454.7h0M473.3 458.5h0M477.7 459.6h0M483.1 457.4h0M484.7 450.9h0M488.0 450.4h0M486.3 454.2h0M485.3 462.8h0M479.8 462.8h0M476.6 466.1h0M473.3 469.3h0M469.0 470.4h0M465.2 472.0h0M463.6 468.3h0M464.7 466.1h0M467.9 467.2h0M472.3 467.2h0M480.9 459.0h0M462.5 470.4h0M491.8 455.3h0M495.0 456.3h0M499.3 455.8h0M501.0 450.4h0M505.8 448.8h0M508.0 447.1h0M512.9 444.4h0M513.4 447.7h0M511.3 450.9h0M511.8 456.3h0M509.6 453.1h0M516.7 447.7h0M519.9 447.7h0M518.8 450.9h0M521.0 454.2h0M508.0 450.9h0M486.9 469.9h0M490.1 471.0h0M489.4 476.4h0M514.0 437.4h0M516.1 436.3h0M520.1 437.6h0M520.8 421.1h0M518.8 424.4h0M520.5 427.6h0M525.9 427.6h0M529.7 442.3h0M532.4 444.4h0M527.0 445.5h0M528.0 448.8h0M531.3 447.7h0M534.6 450.9h0M536.7 453.6h0M534.6 455.8h0M549.6 439.2h0M548.3 449.6h0M555.9 450.4h0M443.0 408.1h0M443.3 413.3h0M451.7 410.8h0M455.5 413.0h0M463.4 419.7h0M467.4 425.5h0M470.6 429.8h0M476.0 433.8h0M473.3 438.1h0M477.3 441.0h0M538.0 475.6h0M553.0 476.6h0M543.6 483.4h0M562.4 470.0h0M527.0 491.0h0M531.6 496.4h0M537.6 494.0h0M538.0 492.0h0M548.0 494.4h0M558.0 484.0h0M563.0 482.0h0M541.0 506.6h0M534.4 513.2h0M519.4 517.6h0M552.0 520.0h0M555.0 516.0h0M557.0 521.0h0M555.0 522.4h0M570.0 530.0h0M573.0 533.0h0M575.0 535.0h0M487.0 499.0h0M496.0 497.4h0M485.4 505.0h0M493.6 505.6h0M504.6 505.0h0M478.0 512.0h0M618.0 415.6h0M634.3 421.2h0M608.8 386.4h0M624.2 402.8h0M619.9 400.9h0M600.7 403.4h0M603.2 387.2h0M604.3 424.6h0M606.8 415.6h0M611.2 395.6h0M623.0 422.5h0M599.9 379.0h0M639.9 419.0h0M602.5 420.8h0M631.1 413.4h0M605.4 403.4h0M593.0 411.1h0M623.3 420.3h0M598.4 418.2h0M588.2 408.4h0M587.4 403.4h0M601.6 405.6h0M602.8 398.4h0M611.8 393.6h0M599.3 407.4h0M610.6 399.7h0M593.0 397.9h0M614.1 432.4h0M594.9 410.9h0M599.7 411.4h0M615.6 430.2h0M604.5 420.1h0M606.6 409.7h0M625.1 419.0h0M630.6 424.3h0M587.4 413.9h0M599.5 391.8h0M630.5 411.9h0M600.9 414.9h0M616.3 418.9h0M618.9 402.4h0M595.4 392.7h0M584.7 399.0h0M604.4 414.9h0M614.5 404.7h0M582.7 405.6h0M584.6 410.9h0M611.0 426.7h0M630.0 419.4h0M607.9 425.9h0M599.5 414.3h0M604.1 426.2h0M602.0 408.7h0M615.8 411.8h0M611.8 396.9h0M621.1 417.9h0M640.6 421.1h0M613.0 406.6h0M640.1 415.6h0M610.4 404.5h0M600.6 421.5h0M606.0 425.4h0M618.1 394.8h0M617.6 407.7h0M612.1 390.2h0M606.7 400.5h0M588.2 387.9h0M628.0 409.8h0M627.1 418.8h0M609.3 399.5h0M592.0 383.2h0M586.8 412.4h0M616.3 387.9h0M603.3 393.7h0M586.7 388.0h0M623.2 411.6h0M603.8 427.6h0M622.3 408.7h0M606.4 432.5h0M596.2 420.3h0M609.0 415.7h0M631.4 417.6h0M609.1 393.8h0M613.4 427.2h0M589.1 385.6h0M606.6 417.3h0M602.4 428.2h0M611.3 412.1h0M584.3 408.2h0M620.0 414.7h0M622.2 414.0h0M613.8 424.1h0M592.3 406.1h0M611.4 387.0h0M607.8 427.4h0M597.3 393.9h0M586.9 389.5h0M617.2 417.6h0M609.5 397.5h0M595.1 406.3h0M587.0 400.9h0M596.6 386.7h0M634.4 427.1h0M616.7 409.2h0M620.3 402.6h0M620.1 425.7h0M622.7 403.2h0M617.1 392.9h0M635.6 411.1h0M610.5 407.7h0M641.8 420.6h0M633.2 419.9h0M604.3 423.0h0M594.6 380.1h0M610.3 393.2h0M588.9 386.8h0M586.2 408.2h0M596.9 416.6h0M592.7 387.0h0M593.3 417.5h0M611.4 428.9h0M615.4 399.8h0M606.3 397.3h0M587.3 395.4h0M626.8 410.7h0M591.2 386.7h0M615.7 391.7h0M592.7 395.9h0M609.3 433.4h0M634.4 418.2h0M604.5 394.7h0M638.8 420.2h0M635.0 422.8h0M598.3 401.4h0M621.0 407.1h0M610.9 397.8h0M596.7 403.0h0M613.3 399.1h0M604.9 396.7h0M602.6 410.9h0M604.8 430.5h0M593.0 413.4h0M628.6 420.9h0M590.9 381.7h0M596.0 412.4h0M609.8 406.1h0M624.0 424.2h0M598.2 415.7h0M637.7 418.3h0M599.8 395.2h0M605.3 385.8h0M610.5 420.5h0M617.6 406.4h0M621.2 419.5h0M617.5 427.4h0M588.3 391.7h0M602.8 381.9h0M590.8 394.9h0M605.8 423.0h0M589.4 407.8h0M617.3 403.8h0M614.7 397.9h0M599.0 422.8h0M624.3 416.0h0M607.5 388.9h0M613.7 421.2h0M593.1 394.0h0M604.5 407.5h0M629.6 408.0h0M609.7 432.1h0M602.4 415.4h0M599.2 387.2h0M620.0 398.7h0M617.1 421.1h0M596.1 404.4h0M597.6 400.2h0M589.2 409.2h0M609.7 413.8h0M588.6 394.2h0M628.3 424.1h0M597.8 391.2h0M584.8 400.7h0M591.0 410.2h0M613.2 403.2h0M632.3 426.4h0M625.6 415.3h0M600.1 404.7h0M608.3 405.7h0M600.5 408.2h0M601.3 386.3h0M613.9 410.3h0M600.5 401.9h0M591.9 384.5h0M590.4 390.1h0M594.3 415.1h0M594.0 399.6h0M622.6 416.5h0M594.4 409.0h0M602.6 396.3h0M618.3 409.9h0M586.3 397.1h0M596.4 385.0h0M597.3 412.5h0M596.1 399.1h0M615.5 384.8h0M609.2 426.5h0M617.4 431.5h0M608.0 404.1h0M592.0 399.7h0M610.8 425.3h0M629.7 410.9h0M601.1 391.4h0M606.0 380.2h0M610.0 403.1h0M632.4 422.6h0M599.9 393.5h0M591.7 404.2h0M591.3 398.3h0M606.9 403.5h0M602.5 391.3h0M618.7 408.7h0M615.7 386.8h0M585.6 406.8h0M613.0 387.2h0M605.1 389.6h0M619.0 420.5h0M590.9 406.4h0M583.8 397.4h0M632.1 411.2h0M624.4 410.4h0M611.3 401.8h0M592.5 390.5h0M613.4 383.3h0M605.9 391.1h0M621.9 406.0h0M622.9 415.2h0M609.5 385.1h0M609.2 428.7h0M589.7 398.7h0M606.0 407.4h0M622.3 424.2h0M607.3 431.3h0M623.7 414.1h0M584.0 396.0h0M635.3 424.9h0M633.3 412.7h0M607.6 420.2h0M602.7 406.9h0M608.8 420.2h0M634.7 415.5h0M641.7 453.1h0M653.9 443.2h0M655.9 437.8h0M651.3 447.8h0M666.6 432.7h0M627.5 461.4h0M640.5 456.5h0M615.4 461.9h0M608.8 441.9h0M637.1 432.9h0M628.8 448.7h0M593.8 441.7h0M624.9 440.5h0M585.8 450.9h0M645.1 437.6h0M619.8 447.5h0M589.9 443.1h0M670.7 440.8h0M601.8 442.2h0M582.4 459.7h0M598.6 434.4h0M578.7 446.3h0M573.0 463.0h0M594.2 467.5h0M577.9 456.0h0M597.8 470.2h0M648.3 463.7h0M614.7 453.7h0M606.5 442.6h0M577.4 473.6h0M614.6 442.9h0M652.5 459.9h0M645.0 442.6h0M662.4 441.4h0M638.8 463.6h0M592.2 443.9h0M588.3 423.9h0M581.9 462.3h0M604.5 437.5h0M598.2 445.4h0M587.6 463.9h0M654.4 448.9h0M576.6 471.2h0M584.0 449.2h0M648.2 440.5h0M667.4 445.7h0M566.8 468.9h0M612.8 451.3h0M649.6 451.8h0M638.5 453.3h0M582.8 469.6h0M570.7 443.2h0M599.3 454.0h0M636.3 463.2h0M669.3 457.5h0M572.3 474.3h0M656.4 440.1h0M648.8 456.5h0M597.0 463.2h0M633.6 452.0h0M633.4 440.8h0M573.9 469.0h0M641.3 431.6h0M642.1 446.9h0M675.1 444.8h0M630.7 464.5h0M592.7 439.1h0M640.3 449.8h0M616.4 433.2h0M579.1 443.0h0M590.4 461.5h0M631.3 454.1h0M625.5 434.0h0M616.6 458.2h0M649.6 437.2h0M593.9 455.9h0M586.8 426.4h0M631.3 437.4h0M663.3 452.3h0M635.3 447.8h0M640.1 439.5h0M621.4 437.2h0M584.6 440.0h0M590.8 436.7h0M650.2 442.0h0M664.8 454.7h0M612.5 464.0h0M607.3 439.6h0M670.3 446.8h0M601.3 433.3h0M660.0 446.1h0M597.0 467.7h0M603.9 447.4h0M588.4 472.2h0M672.4 459.1h0M587.9 438.1h0M621.9 457.3h0M636.8 457.8h0M582.4 456.1h0M586.1 476.0h0M637.4 443.3h0M663.5 448.0h0M580.2 459.2h0M575.8 467.7h0M610.6 444.3h0M594.0 470.5h0M644.6 464.4h0M606.2 453.6h0M591.9 453.4h0M590.0 429.0h0M605.4 466.1h0M624.5 466.8h0M642.4 438.1h0M655.1 451.3h0M598.6 441.0h0M583.7 454.2h0M575.3 464.8h0M613.0 440.9h0M620.6 466.2h0M640.7 461.5h0M649.5 449.0h0M650.8 458.1h0M615.1 447.5h0M588.0 467.6h0M580.5 477.4h0M624.9 430.8h0M608.7 434.6h0M643.2 435.8h0M668.7 442.3h0M662.3 438.7h0M666.1 448.3h0M659.4 449.5h0M653.0 436.8h0M591.6 455.6h0M628.2 467.4h0M665.4 442.2h0M656.4 456.2h0M595.0 430.1h0M634.8 436.9h0M608.8 446.1h0M668.9 460.8h0M569.5 473.4h0M658.3 454.1h0M597.7 436.5h0M630.3 431.5h0M605.1 459.1h0M612.0 435.3h0M604.9 450.3h0M573.5 477.2h0M625.3 462.9h0M580.7 471.8h0M661.3 453.2h0M586.4 444.1h0M599.9 451.7h0M628.1 433.8h0M668.8 452.7h0M594.3 461.4h0M647.5 447.6h0M576.1 461.1h0M610.7 440.8h0M673.5 450.9h0M569.0 444.8h0M549.5 439.4h0M548.3 449.8h0M556.1 450.2h0M552.8 476.4h0M543.7 483.2h0M562.0 481.9h0M558.0 484.7h0M724.3 501.5h0M709.4 432.9h0M687.8 441.7h0M717.6 459.9h0M693.5 420.9h0M683.2 438.8h0M719.0 452.6h0M693.3 436.6h0M698.0 462.0h0M689.2 456.9h0M686.3 454.8h0M691.7 460.0h0M703.8 434.5h0M700.6 470.6h0M678.3 435.7h0M699.8 464.4h0M690.0 421.2h0M677.7 454.0h0M694.0 432.9h0M675.1 432.2h0M669.1 436.6h0M702.0 458.6h0M713.5 461.5h0M695.1 446.1h0M704.2 444.1h0M699.3 459.8h0M688.8 433.1h0M700.0 434.8h0M702.1 450.0h0M690.2 459.6h0M676.3 452.0h0M703.0 476.4h0M689.6 442.7h0M717.1 457.8h0M708.1 472.0h0M682.7 450.0h0M681.6 437.7h0M718.8 463.5h0M697.3 432.6h0M680.8 457.1h0M711.0 459.8h0M724.3 458.9h0M692.8 471.9h0M709.3 466.2h0M726.1 465.0h0M708.6 468.9h0M692.6 448.8h0M716.9 464.0h0M684.3 451.7h0M707.2 464.5h0M684.6 459.0h0M707.6 458.4h0M705.5 442.3h0M704.8 460.5h0M709.7 436.7h0M721.4 467.5h0M707.3 437.4h0M716.7 473.7h0M686.0 431.8h0M713.2 433.1h0M679.4 451.6h0M684.6 447.2h0M721.3 471.7h0M678.5 426.1h0M699.9 454.9h0M696.9 469.8h0M719.8 473.5h0M686.0 428.0h0M690.6 461.3h0M713.2 440.6h0M706.2 478.3h0M687.6 419.3h0M685.5 423.5h0M701.5 475.5h0M696.3 424.5h0M710.8 446.0h0M710.8 457.5h0M699.3 451.2h0M679.2 442.3h0M697.6 427.0h0M681.0 440.3h0M694.2 422.6h0M680.5 436.7h0M695.9 442.9h0M673.5 436.0h0M698.2 440.3h0M704.5 474.9h0M684.8 426.8h0M687.0 422.9h0M701.2 427.6h0M705.3 439.8h0M703.9 462.8h0M724.6 470.4h0M688.0 456.0h0M714.8 472.0h0M710.4 468.6h0M712.9 452.4h0M685.6 460.8h0M700.1 445.6h0M714.7 477.5h0M684.2 424.2h0M669.1 430.5h0M703.1 455.3h0M711.8 454.5h0M695.7 460.5h0M690.5 470.2h0M693.1 450.1h0M723.1 456.8h0M673.2 434.0h0M718.8 466.6h0M711.5 473.0h0M699.2 447.4h0M680.7 446.0h0M690.7 441.5h0M691.9 456.8h0M702.1 468.5h0M674.3 429.0h0M701.1 448.4h0M697.3 455.8h0M705.8 436.7h0M692.1 428.1h0M693.3 452.9h0M671.6 434.3h0M703.5 445.2h0M688.5 446.9h0M692.0 464.7h0M704.8 457.4h0M683.1 426.4h0M706.7 455.4h0M727.2 467.6h0M691.1 452.1h0M706.7 459.7h0M694.7 464.0h0M713.4 437.6h0M695.5 473.5h0M713.1 448.8h0M698.9 432.0h0M707.0 431.1h0M680.0 424.2h0M708.6 452.3h0M721.7 454.4h0M712.6 465.9h0M699.8 425.3h0M710.8 432.4h0M707.9 432.8h0M696.2 448.8h0M706.4 473.7h0M711.4 477.3h0M709.1 479.1h0M714.8 461.2h0M689.4 465.4h0M693.3 439.6h0M696.4 452.2h0M685.8 436.2h0M717.7 445.2h0M725.6 453.1h0M713.4 473.2h0M713.1 454.1h0M696.0 455.0h0M670.7 436.1h0M691.9 447.5h0M677.9 437.5h0M676.9 438.5h0M694.8 426.6h0M704.1 478.7h0M715.2 446.3h0M686.6 466.0h0M708.4 434.5h0M717.5 452.3h0M678.7 439.5h0M695.9 445.0h0M715.0 466.0h0M711.8 440.8h0M667.0 433.2h0M682.8 436.6h0M718.3 472.9h0M721.1 473.0h0M724.3 455.3h0M695.5 433.3h0M698.1 434.1h0M710.0 435.1h0M686.3 450.2h0M715.2 444.9h0M697.5 473.9h0M688.5 448.9h0M674.2 427.0h0M720.0 447.5h0M724.4 463.9h0M685.1 441.0h0M712.3 474.2h0M708.9 458.8h0M707.3 461.9h0M682.2 452.4h0M704.4 438.6h0M710.8 462.3h0M720.2 464.1h0M687.1 448.6h0M684.5 449.0h0M719.9 459.2h0M691.0 469.0h0M693.4 468.1h0M716.4 441.5h0M690.3 437.0h0M680.5 441.9h0M682.8 422.9h0M701.2 465.8h0M704.2 431.0h0M679.8 449.7h0M688.6 466.5h0M693.0 455.9h0M700.5 477.1h0M682.2 446.0h0M697.2 441.6h0M692.8 423.7h0M716.0 449.5h0M712.3 434.7h0M722.2 449.0h0M702.4 471.7h0M717.3 466.5h0M696.4 459.1h0M690.3 454.8h0M680.3 427.2h0M695.7 463.0h0M720.8 445.3h0M724.7 468.8h0M712.9 462.9h0M675.5 430.8h0M693.0 463.7h0M705.8 476.9h0M666.2 438.1h0M689.9 463.2h0M665.3 428.2h0M683.8 435.3h0M690.4 425.0h0M714.7 443.6h0M728.0 464.8h0M670.7 432.9h0M705.4 451.5h0M696.0 423.0h0M703.9 458.6h0M688.5 437.1h0M709.8 447.6h0M700.8 468.3h0M704.5 477.3h0M699.2 453.2h0M696.6 429.5h0M700.3 444.1h0M679.6 453.6h0M702.9 442.0h0M705.1 469.6h0M695.3 430.4h0M725.5 457.0h0M704.6 436.1h0M697.3 453.1h0M700.8 451.5h0M686.7 438.3h0M687.2 445.4h0M696.1 427.1h0M671.7 431.2h0M678.7 434.0h0M675.9 427.3h0M548.3 494.8h0M569.3 496.6h0M568.4 491.1h0M555.6 515.5h0M552.8 518.6h0M551.0 506.7h0M438.0 528.7h0M443.3 535.3h0M457.5 533.0h0M462.8 536.3h0M454.2 539.7h0M443.3 552.2h0M453.3 552.5h0M469.5 550.3h0M435.0 555.0h0M433.3 543.3h0M486.7 498.7h0M495.8 497.2h0M485.0 504.5h0M493.7 505.3h0M504.5 505.0h0M478.0 511.7h0M519.5 517.8h0M570.0 530.0h0M573.3 533.3h0M575.8 535.0h0M583.3 540.8h0M586.7 544.2h0M591.7 547.5h0M596.7 551.3h0M585.0 548.3h0M152.9 548.5h0M199.9 502.0h0M174.7 519.8h0M189.4 523.5h0M214.5 521.2h0M165.9 560.9h0M176.5 539.6h0M220.9 515.7h0M180.3 557.5h0M153.7 556.4h0M209.0 525.8h0M217.6 512.2h0M166.3 557.6h0M163.5 533.6h0M174.2 558.1h0M206.7 520.9h0M208.5 518.9h0M186.4 505.2h0M185.4 565.1h0M193.5 516.0h0M204.5 508.0h0M183.6 537.5h0M215.3 528.8h0M171.8 518.5h0M156.8 537.5h0M196.8 508.7h0M188.1 526.4h0M176.6 519.9h0M190.7 558.6h0M188.1 548.0h0M217.6 523.3h0M158.3 524.4h0M186.8 542.8h0M200.1 509.1h0M154.9 532.5h0M197.8 537.9h0M213.4 506.5h0M176.7 513.0h0M187.3 551.2h0M159.5 559.2h0M198.7 536.7h0M190.0 534.7h0M189.9 569.5h0M205.7 514.6h0M158.7 529.0h0M210.3 528.5h0M197.8 549.3h0M154.4 549.0h0M180.1 564.4h0M209.0 502.5h0M216.0 508.1h0M197.3 515.0h0M204.5 530.3h0M185.4 512.3h0M173.2 554.4h0M176.0 527.7h0M162.1 531.4h0M185.3 533.1h0M187.3 535.7h0M201.3 531.2h0M173.1 540.1h0M169.3 543.9h0M173.6 563.1h0M192.8 549.1h0M193.7 518.5h0M168.9 531.2h0M186.8 526.9h0M182.1 526.5h0M159.5 533.0h0M211.1 520.0h0M162.9 560.5h0M156.2 544.4h0M190.4 550.7h0M199.6 513.5h0M150.3 547.4h0M214.7 512.9h0M167.6 548.1h0M168.1 559.3h0M163.9 555.2h0M180.7 509.3h0M188.5 537.4h0M194.4 553.4h0M170.7 519.8h0M196.4 553.6h0M151.8 544.6h0M152.3 532.9h0M170.7 525.8h0M163.1 539.4h0M170.4 540.7h0M209.9 516.6h0M200.8 520.2h0M219.2 515.1h0M211.2 525.9h0M167.2 543.2h0M159.2 540.4h0M181.6 541.7h0M191.5 544.9h0M177.1 526.5h0M171.9 549.6h0M203.7 520.6h0M166.3 547.0h0M174.0 539.0h0M202.0 505.1h0M174.1 546.9h0M166.1 539.1h0M194.7 547.7h0M188.6 514.6h0M195.1 541.8h0M192.2 515.0h0M173.7 536.1h0M155.2 539.6h0M188.2 544.0h0M176.9 551.6h0M171.5 557.8h0M174.8 530.9h0M154.4 530.3h0M188.4 532.0h0M167.2 540.6h0M217.0 518.2h0M180.1 546.8h0M156.5 564.3h0M216.8 509.3h0M146.4 546.7h0M225.4 511.8h0M187.3 522.5h0M217.0 504.9h0M191.5 526.9h0M203.7 506.3h0M181.3 555.0h0M199.3 516.0h0M198.1 505.6h0M178.4 533.9h0M170.0 568.4h0M161.5 533.1h0M193.2 520.5h0M191.4 565.6h0M196.9 566.1h0M190.7 561.9h0M200.8 518.9h0M205.4 536.0h0M176.4 532.5h0M214.2 508.7h0M166.6 534.1h0M148.5 545.1h0M197.8 550.7h0M190.1 543.7h0M185.4 549.2h0M186.0 511.0h0M165.7 532.0h0M199.2 503.3h0M154.6 550.3h0M187.4 504.3h0M167.1 550.1h0M154.1 538.0h0M201.7 540.6h0M184.0 563.1h0M175.1 560.0h0M181.3 504.4h0M203.7 515.0h0M199.6 535.6h0M176.0 544.3h0M184.9 505.0h0M182.3 538.6h0M180.6 543.4h0M183.1 549.8h0M182.5 552.3h0M198.0 557.6h0M158.2 537.8h0M172.8 528.3h0M159.2 546.9h0M208.3 505.8h0M222.4 507.9h0M204.0 527.9h0M179.5 550.8h0M156.7 555.7h0M184.0 559.8h0M184.2 517.7h0M170.7 534.6h0M196.1 546.7h0M181.4 537.1h0M158.3 532.0h0M162.9 541.6h0M215.3 514.1h0M163.5 553.7h0M189.7 519.4h0M188.8 559.7h0M214.2 523.5h0M156.4 552.9h0M167.9 535.5h0M197.1 561.8h0M176.9 558.2h0M169.8 522.6h0M187.4 564.9h0M148.1 541.5h0M158.6 552.6h0M201.0 543.4h0M158.8 557.7h0M150.2 548.7h0M211.9 504.8h0M178.4 524.2h0M166.5 545.3h0M193.2 510.5h0M179.2 560.6h0M211.0 514.2h0M199.3 531.0h0M154.3 547.3h0M191.6 503.0h0M200.4 523.4h0M173.0 550.2h0M197.8 530.6h0M164.7 549.5h0M157.8 556.2h0M193.1 502.9h0M184.2 554.2h0M193.8 550.0h0M156.4 527.9h0M174.7 524.5h0M181.6 519.8h0M169.3 525.7h0M212.8 530.3h0M153.9 544.7h0M190.5 547.2h0M197.0 542.1h0M189.4 530.0h0M192.5 525.6h0M191.7 537.5h0M203.4 539.2h0M184.7 526.9h0M215.4 503.9h0M208.7 499.2h0M176.6 565.4h0M188.6 521.9h0M167.9 521.7h0M207.5 529.9h0M219.9 513.4h0M169.2 519.4h0M194.2 505.4h0M166.0 530.8h0M189.8 505.0h0M160.7 543.7h0M192.9 571.3h0M171.3 544.2h0M177.8 549.7h0M219.4 519.5h0M183.7 553.1h0M196.7 556.1h0M203.0 504.4h0M197.3 559.1h0M189.7 541.5h0M197.4 529.0h0M200.9 567.0h0M188.5 570.4h0M199.4 566.5h0M197.7 569.5h0M167.1 551.3h0M164.4 530.3h0M202.2 507.7h0M218.2 522.1h0M175.9 546.0h0M193.2 537.5h0M199.4 518.1h0M175.1 566.0h0M191.6 568.4h0M198.2 554.6h0M192.6 542.2h0M198.2 500.6h0M221.2 511.6h0M213.9 518.2h0M177.4 559.6h0M195.9 569.8h0M180.6 556.1h0M189.5 564.2h0M152.8 552.1h0M167.7 555.7h0M194.8 537.0h0M189.1 512.8h0M150.6 539.7h0M207.5 512.6h0M206.6 506.6h0M181.9 543.3h0M166.7 518.1h0M199.3 549.6h0M159.2 550.8h0M188.9 546.4h0M217.2 526.5h0M207.9 510.6h0M165.0 540.3h0M202.1 501.9h0M174.1 564.5h0M155.8 547.2h0M211.8 506.2h0M195.6 518.2h0M173.8 542.0h0M181.6 531.3h0M168.7 549.2h0M188.6 540.6h0M176.5 549.1h0M182.6 535.1h0M187.1 559.1h0M197.5 563.4h0M210.5 502.9h0M159.0 549.6h0M153.7 534.3h0M172.2 522.0h0M183.4 545.0h0M156.5 535.1h0M206.5 516.7h0M170.9 566.9h0M199.6 547.9h0M168.2 554.5h0M210.6 506.5h0M192.8 568.4h0M172.2 565.8h0M148.4 552.9h0M191.8 550.7h0M195.3 544.0h0M166.0 527.7h0M190.6 508.7h0M203.9 523.1h0M157.7 554.0h0M188.7 506.7h0M171.3 530.2h0M170.9 532.6h0M183.0 510.3h0M157.9 544.6h0M211.5 529.0h0M218.3 524.9h0M209.5 512.6h0M181.1 538.7h0M176.9 515.1h0M154.7 552.2h0M175.9 509.5h0M163.8 520.8h0M198.4 568.1h0M179.6 516.4h0M207.8 509.4h0M218.8 508.9h0M203.9 501.4h0M191.5 517.6h0M179.8 524.6h0M197.8 503.2h0M194.2 506.9h0M152.6 542.0h0M178.7 557.0h0M177.1 534.0h0M217.2 528.5h0M148.0 543.6h0M201.6 556.2h0M196.7 544.7h0M171.4 545.9h0M179.0 544.3h0M195.9 531.3h0M158.2 560.5h0M195.9 535.6h0M189.3 566.6h0M173.0 561.7h0M204.1 517.1h0M199.1 506.3h0M189.3 552.3h0M168.1 564.9h0M214.3 534.7h0M210.0 542.0h0M213.3 540.7h0M206.0 546.7h0M207.6 552.7h0M206.7 558.7h0M208.7 558.0h0M225.3 538.0h0M228.7 542.0h0M234.7 542.0h0M219.3 550.0h0M224.7 549.3h0M228.7 552.0h0M232.7 548.0h0M236.0 551.3h0M233.6 558.7h0M214.7 570.0h0M216.0 575.3h0M222.7 580.4h0M225.3 575.3h0M229.3 572.7h0M232.7 574.0h0M235.3 569.3h0M244.7 571.3h0M247.3 574.0h0M246.0 576.0h0M243.6 498.7h0M238.0 510.0h0M246.0 507.1h0M250.7 505.7h0M259.3 487.1h0M260.7 492.7h0M278.3 529.3h0M252.7 544.7h0M947.2 375.2h0M951.5 374.1h0M954.1 376.5h0M966.9 371.2h0M888.8 426.7h0M897.6 438.4h0M724.3 501.6h0M735.7 524.0h0M719.7 535.5h0M728.3 536.8h0M740.5 532.0h0M742.7 536.0h0M740.0 536.0h0M746.7 539.2h0M752.0 540.0h0M754.7 541.9h0M737.9 544.8h0M744.0 544.0h0M750.7 550.7h0M753.3 549.9h0M740.0 550.7h0M726.7 554.9h0M739.2 558.9h0M748.0 557.3h0M756.0 557.3h0M745.3 562.7h0M747.2 565.9h0M753.3 563.2h0M759.7 565.6h0M749.1 571.5h0M782.1 562.7h0M787.5 565.3h0M784.0 570.7h0M785.3 566.7h0M782.8 587.4h0M740.9 597.6h0M777.5 586.1h0M764.0 585.2h0M754.5 604.2h0M767.8 595.6h0M713.3 587.3h0M750.3 604.5h0M784.0 585.8h0M778.9 599.7h0M777.6 579.5h0M783.7 594.4h0M718.7 595.3h0M778.6 592.8h0M746.7 597.4h0M732.7 593.7h0M725.5 589.6h0M728.3 590.8h0M721.3 599.0h0M712.0 584.8h0M733.8 590.7h0M770.6 590.0h0M722.7 592.6h0M772.1 602.1h0M772.2 596.9h0M771.1 582.9h0M776.5 584.8h0M772.7 593.9h0M754.9 600.1h0M737.2 594.9h0M779.7 588.3h0M707.8 582.2h0M752.1 599.7h0M767.6 603.5h0M750.6 587.6h0M718.2 587.0h0M782.1 584.1h0M773.9 581.9h0M745.2 600.4h0M731.5 602.8h0M779.7 578.7h0M732.3 596.1h0M759.9 595.9h0M774.7 599.4h0M726.5 599.0h0M714.5 585.5h0M764.8 604.9h0M769.4 598.0h0M781.1 591.3h0M759.4 591.4h0M741.3 605.7h0M765.9 603.9h0M749.6 588.3h0M776.5 594.7h0M767.9 588.8h0M777.0 581.2h0M731.5 589.1h0M726.9 589.9h0M752.3 596.6h0M740.7 600.9h0M754.1 587.6h0M735.1 604.6h0M763.4 594.7h0M751.6 590.8h0M723.4 594.4h0M711.9 583.4h0M732.5 600.6h0M713.3 584.4h0M770.0 603.5h0M761.3 596.7h0M721.5 588.3h0M763.8 586.7h0M749.3 599.1h0M767.9 601.5h0M773.5 595.4h0M732.6 591.3h0M779.4 580.2h0M774.8 586.9h0M765.5 593.1h0M719.4 587.6h0M758.5 606.6h0M779.8 581.7h0M747.9 590.2h0M770.6 580.1h0M764.4 589.0h0M723.5 599.2h0M710.2 582.7h0M727.8 595.0h0M743.1 601.6h0M742.2 599.5h0M766.3 586.1h0M784.7 579.6h0M783.5 583.5h0M734.3 603.0h0M749.5 601.2h0M776.1 592.5h0M784.7 591.6h0M756.4 600.3h0M756.5 587.5h0M774.9 591.3h0M764.7 597.1h0M748.8 603.4h0M757.6 589.9h0M776.1 589.3h0M767.1 591.7h0M771.1 595.1h0M708.8 579.2h0M757.1 598.5h0M775.0 594.1h0M736.8 598.6h0M771.8 587.7h0M749.4 594.5h0M757.9 587.7h0M775.9 583.0h0M771.8 585.5h0M783.0 590.2h0M765.9 594.6h0M747.5 600.8h0M782.4 593.2h0M750.3 593.5h0M761.5 590.0h0M751.2 601.3h0M781.1 593.9h0M719.7 596.6h0M778.2 594.9h0M910.9 544.0h0M908.0 546.7h0M900.8 559.5h0M902.7 563.2h0M899.2 565.3h0M896.5 572.0h0M894.7 573.3h0M895.5 577.3h0M896.5 581.9h0M897.1 585.6h0M904.0 623.2h0M1016.2 732.7h0M1041.2 692.3h0M976.7 747.4h0M974.7 674.9h0M1018.9 762.1h0M1011.5 708.5h0M995.9 704.6h0M933.7 716.4h0M937.0 722.9h0M1038.9 720.7h0M910.8 711.0h0M998.2 654.1h0M1027.2 665.7h0M974.7 687.6h0M1059.0 667.1h0M938.6 706.7h0M1012.3 724.2h0M979.4 698.7h0M906.9 725.5h0M1021.9 658.1h0M1003.4 736.3h0M975.6 762.6h0M1042.3 713.4h0M982.9 766.8h0M969.8 714.1h0M927.7 721.9h0M936.6 763.4h0M957.6 756.0h0M1028.0 694.3h0M1023.2 664.9h0M947.9 678.5h0M958.1 679.8h0M967.7 698.5h0M939.9 730.5h0M988.5 669.5h0M963.7 753.8h0M990.5 643.1h0M1015.9 762.7h0M1029.3 697.2h0M921.3 750.6h0M1001.1 721.6h0M924.5 727.7h0M965.0 678.0h0M974.7 768.8h0M1024.3 690.1h0M1000.6 672.7h0M953.8 746.1h0M967.9 653.9h0M951.4 673.1h0M1057.7 702.5h0M981.7 674.1h0M974.7 644.4h0M954.6 716.1h0M929.8 763.9h0M1034.9 688.1h0M1015.8 676.4h0M1028.5 629.3h0M900.2 726.0h0M982.2 763.4h0M934.9 748.2h0M1007.3 651.2h0M1010.6 683.0h0M943.6 705.9h0M996.6 709.3h0M1030.6 633.9h0M947.9 754.0h0M985.7 642.2h0M995.0 744.2h0M908.7 740.8h0M961.1 668.2h0M1028.6 642.3h0M905.4 719.5h0M1048.7 705.9h0M1010.8 632.5h0M1053.2 661.5h0M969.4 636.1h0M987.9 636.3h0M981.1 669.4h0M969.2 772.4h0M911.9 779.6h0M973.0 704.3h0M934.0 690.8h0M1004.0 657.1h0M968.1 677.2h0M1047.8 719.1h0M938.7 751.0h0M1024.9 762.1h0M1043.8 741.0h0M1018.5 671.5h0M1029.9 711.1h0M1019.5 692.6h0M964.5 758.2h0M1060.9 663.2h0M999.3 776.8h0M991.0 688.7h0M977.8 645.8h0M999.8 658.7h0M1031.7 685.6h0M1033.3 753.4h0M997.2 765.2h0M984.4 702.8h0M985.2 651.7h0M956.8 774.4h0M973.9 754.2h0M955.7 743.6h0M1027.1 699.5h0M1055.8 680.3h0M987.2 684.0h0M929.7 737.9h0M1031.8 664.2h0M969.2 705.8h0M1009.1 732.0h0M1002.0 667.7h0M1028.8 720.5h0M972.5 734.1h0M1005.6 763.2h0M1040.2 665.9h0M923.0 772.9h0M969.9 742.0h0M1020.4 768.9h0M1036.7 748.5h0M943.5 714.2h0M1040.4 655.8h0M993.8 653.5h0M972.6 650.0h0M1036.2 668.2h0M963.7 770.5h0M947.9 737.8h0M964.0 674.7h0M965.3 653.7h0M941.9 717.0h0M1052.2 684.8h0M1048.6 678.8h0M997.1 721.0h0M1023.0 693.8h0M966.5 743.6h0M936.6 738.5h0M984.0 721.6h0M994.5 725.2h0M1028.5 729.6h0M1033.6 731.6h0M1000.0 741.0h0M967.1 709.6h0M1027.0 676.8h0M946.6 683.2h0M957.2 726.5h0M1017.0 650.0h0M986.6 717.8h0M1055.1 703.1h0M969.4 657.6h0M1003.8 647.9h0M976.8 673.4h0M902.4 724.7h0M1008.8 758.6h0M1013.0 697.9h0M995.0 650.2h0M1031.9 673.7h0M1004.4 668.5h0M955.5 721.4h0M947.4 757.1h0M998.9 713.7h0M899.3 710.1h0M1039.7 706.4h0M1043.9 731.8h0M917.4 787.3h0M990.7 733.8h0M939.9 677.4h0M926.0 774.8h0M985.4 724.5h0M993.9 755.4h0M905.7 731.7h0M1045.0 664.6h0M912.6 725.2h0M1003.7 660.4h0M985.9 693.7h0M972.5 690.9h0M1006.0 717.1h0M976.8 705.0h0M1061.4 682.2h0M976.3 666.7h0M946.3 762.5h0M981.0 731.3h0M1040.3 702.0h0M1034.0 681.5h0M931.4 772.8h0M988.3 640.2h0M1049.3 645.3h0M1033.0 713.3h0M941.2 752.0h0M943.5 692.8h0M1006.3 655.4h0M1028.3 646.6h0M962.4 768.0h0M937.3 685.5h0M1019.3 660.6h0M991.1 753.9h0M1001.2 647.7h0M914.8 754.9h0M947.1 662.5h0M1020.6 710.6h0M970.4 778.0h0M1047.5 668.6h0M936.2 755.7h0M1021.2 673.7h0M983.4 655.2h0M967.6 644.4h0M1012.2 738.1h0M989.1 721.5h0M941.8 681.8h0M940.2 768.4h0M976.1 782.5h0M1020.8 752.0h0M1056.4 666.3h0M1031.9 702.8h0M1012.6 754.6h0M1002.6 622.3h0M1006.1 692.0h0M963.7 723.1h0M997.0 771.1h0M970.3 720.3h0M1016.0 656.6h0M990.1 651.3h0M1006.3 737.7h0M990.0 679.9h0M949.4 778.2h0M1003.5 673.9h0M971.4 784.1h0M996.2 661.6h0M966.5 720.1h0M1009.7 765.6h0M946.1 672.3h0M958.4 744.3h0M985.6 681.6h0M1008.0 675.3h0M1013.8 746.4h0M968.7 763.9h0M926.6 780.0h0M940.6 672.4h0M981.4 737.3h0M1004.0 776.2h0M987.4 779.3h0M1001.9 692.7h0M1013.4 761.6h0M1035.3 659.1h0M981.2 651.5h0M947.3 705.3h0M924.8 750.6h0M978.6 677.3h0M919.0 725.7h0M1027.7 654.4h0M955.3 766.8h0M952.8 780.4h0M987.0 667.1h0M956.4 731.1h0M1039.6 651.7h0M994.4 697.2h0M901.8 722.1h0M1021.6 700.6h0M978.0 652.3h0M979.0 779.2h0M959.1 761.4h0M960.5 764.0h0M987.1 655.3h0M957.2 667.8h0M938.8 775.9h0M966.8 785.2h0M998.6 704.4h0M1029.2 753.1h0M1023.0 756.9h0M957.0 704.6h0M925.8 734.4h0M907.4 721.8h0M1028.5 668.9h0M1047.8 700.0h0M1013.1 684.2h0M1031.3 651.1h0M1044.6 680.0h0M1014.8 726.7h0M945.8 708.5h0M921.4 738.7h0M934.8 727.9h0M931.1 726.3h0M970.2 669.8h0M943.8 674.1h0M1015.4 759.3h0M952.4 704.8h0M997.7 640.3h0M1004.1 639.1h0M1023.2 669.8h0M1037.9 741.3h0M929.8 741.9h0M919.7 717.3h0M1058.9 687.1h0M994.3 741.2h0M1064.5 696.2h0M1030.0 738.1h0M1010.1 712.2h0M989.6 674.9h0M961.7 682.3h0M922.9 717.2h0M983.5 732.2h0M1012.0 734.0h0M1022.5 760.4h0M1050.0 649.4h0M963.4 693.6h0M947.8 665.3h0M959.6 771.6h0M960.6 649.1h0M974.1 694.9h0M952.8 770.3h0M976.6 680.3h0M1006.3 709.9h0M1049.1 690.5h0M1036.5 697.9h0M992.9 759.7h0M937.3 743.7h0M1056.7 682.7h0M956.2 695.9h0M932.5 704.7h0M1052.2 727.7h0M1023.1 649.7h0M1055.5 663.2h0M1040.1 684.4h0M976.8 661.2h0M934.9 678.2h0M963.3 661.9h0M1006.6 748.6h0M1024.8 638.9h0M1062.6 660.1h0M934.7 735.6h0M994.4 738.1h0M933.2 756.2h0M1049.8 653.8h0M993.0 635.8h0M954.3 762.3h0M998.4 648.6h0M960.6 782.3h0M933.0 768.1h0M1014.1 730.2h0M952.4 684.8h0M928.1 701.3h0M1028.5 681.3h0M924.9 737.0h0M1014.8 692.7h0M927.3 709.2h0M963.7 745.3h0M950.8 667.8h0M1054.8 657.4h0M977.5 773.9h0M931.7 680.6h0M944.0 679.6h0M961.6 705.9h0M986.7 677.4h0M933.7 709.1h0M997.2 700.0h0M917.4 762.1h0M956.0 749.6h0M958.9 716.9h0M1018.7 736.6h0M1010.9 742.7h0M935.7 779.9h0M950.5 716.5h0M1002.9 746.5h0M1018.9 695.5h0M1028.5 637.7h0M994.0 689.6h0M1027.6 749.7h0M1039.2 673.9h0M955.8 760.1h0M987.3 649.6h0M962.6 656.2h0M936.8 783.5h0M931.7 776.5h0M956.6 673.0h0M1005.1 679.3h0M989.1 747.1h0M943.9 774.0h0M935.6 766.8h0M996.6 629.6h0M1032.7 741.9h0M926.3 748.3h0M1011.4 717.6h0M1045.9 639.5h0M951.8 775.7h0M950.7 756.9h0M1047.6 686.1h0M1026.7 709.5h0M996.7 747.2h0M1008.3 647.1h0M914.5 763.5h0M988.5 708.3h0M1037.9 727.6h0M1005.5 730.6h0M953.7 756.2h0M1019.1 637.4h0M953.7 710.2h0M945.4 728.1h0M953.1 688.2h0M958.3 741.4h0M1009.2 663.8h0M1046.2 674.9h0M1043.0 642.9h0M1016.8 766.2h0M930.1 709.6h0M962.9 650.7h0M1010.3 726.5h0M1063.4 676.6h0M941.0 721.4h0M972.8 758.7h0M1034.6 678.5h0M1012.9 757.6h0M1040.0 662.9h0M1010.9 653.7h0M939.5 757.6h0M1032.5 667.3h0M997.5 737.7h0M937.1 673.9h0M990.8 724.0h0M1013.2 770.2h0M970.7 696.1h0M1008.7 739.3h0M979.5 742.4h0M906.3 736.2h0M1000.9 754.9h0M1009.7 771.8h0M1002.5 751.1h0M1028.4 757.3h0M1000.3 772.6h0M963.6 765.1h0M1033.2 691.4h0M1036.9 732.7h0M1003.2 766.0h0M1026.0 697.0h0M1005.6 706.4h0M1009.2 628.7h0M965.2 645.4h0M998.0 716.9h0M1019.2 741.5h0M960.1 749.4h0M977.9 658.7h0M921.8 713.5h0M1038.0 695.2h0M1000.6 631.9h0M1010.3 661.5h0M1019.6 704.2h0M1005.7 698.1h0M1001.1 656.5h0M972.6 672.2h0M1009.6 669.2h0M1041.7 727.4h0M979.3 719.9h0M970.8 746.2h0M935.1 718.9h0M987.0 714.9h0M963.4 730.3h0M968.5 728.1h0M1042.6 706.7h0M989.0 730.3h0M974.5 773.8h0M955.7 739.6h0M993.7 766.9h0M1038.2 717.8h0M982.1 754.8h0M928.1 724.5h0M930.1 687.4h0M946.8 714.3h0M1053.0 693.4h0M950.4 719.5h0M914.4 715.6h0M987.4 769.5h0M1016.2 744.0h0M914.7 748.5h0M1022.8 636.4h0M1030.9 700.0h0M914.9 720.3h0M964.5 727.6h0M1027.2 688.2h0M998.0 633.0h0M975.8 721.3h0M963.0 713.6h0M964.6 786.7h0M1051.9 665.4h0M963.3 685.7h0M1026.9 662.2h0M1050.7 676.9h0M969.3 754.0h0M948.6 760.4h0M1045.3 660.2h0M939.8 701.4h0M960.5 700.8h0M937.4 726.8h0M995.6 646.0h0M1044.7 704.8h0M963.3 781.8h0M917.2 714.4h0M1016.5 652.6h0M1016.7 687.7h0M914.6 740.6h0M976.4 650.1h0M1005.1 714.6h0M962.1 677.7h0M981.8 724.4h0M992.1 710.1h0M1022.3 654.8h0M988.2 691.3h0M983.1 664.3h0M1042.9 672.9h0M992.4 649.2h0M1040.1 747.3h0M957.7 714.6h0M975.7 740.6h0M1056.2 669.9h0M901.0 715.5h0M1046.9 644.0h0M978.2 702.8h0M973.9 712.3h0M1026.8 704.2h0M1047.7 648.2h0M917.0 741.6h0M940.5 712.6h0M990.0 684.6h0M1022.6 731.1h0M993.7 713.0h0M981.4 779.7h0M978.5 713.2h0M1014.4 739.7h0M949.2 741.4h0M1036.4 664.3h0M946.4 780.9h0M949.6 698.4h0M1016.2 626.7h0M972.4 633.0h0M1014.3 717.4h0M986.9 686.8h0M977.3 636.9h0M1044.6 737.5h0M951.5 767.7h0M1003.5 770.9h0M974.4 681.6h0M945.5 667.0h0M1009.4 694.9h0M997.4 669.3h0M961.1 744.4h0M1049.5 656.7h0M974.7 730.2h0M919.6 765.2h0M972.4 646.4h0M938.5 770.8h0M1038.4 689.6h0M1030.9 670.7h0M1003.0 708.9h0M1027.5 739.7h0M987.2 699.9h0M1026.5 732.0h0M1036.1 729.6h0M930.3 755.0h0M1010.1 624.1h0M1025.5 651.4h0M1033.1 756.1h0M986.6 765.6h0M966.7 747.2h0M1017.5 713.5h0M976.4 755.1h0M945.6 769.5h0M927.1 753.2h0M992.4 692.0h0M979.0 685.3h0M1016.7 699.4h0M978.9 634.5h0M986.5 696.8h0M1015.3 720.9h0M950.6 687.8h0M950.4 702.2h0M980.9 645.1h0M958.7 652.3h0M939.2 734.5h0M1063.2 673.7h0M984.3 772.0h0M907.1 707.0h0M1034.0 737.7h0M987.5 726.5h0M923.0 783.4h0M1011.6 687.5h0M1059.5 676.8h0M1055.3 696.1h0M985.4 762.0h0M985.6 672.0h0M930.6 767.0h0M982.7 746.8h0M1013.1 665.7h0M1030.8 750.9h0M937.4 680.2h0M958.1 734.0h0M910.0 730.1h0M1014.3 702.9h0M995.9 691.3h0M1013.5 662.4h0M1033.0 718.0h0M1013.7 649.8h0M975.5 779.8h0M1042.0 649.9h0M994.0 730.9h0M962.7 689.7h0M1018.9 627.3h0M1024.9 727.3h0M934.8 760.3h0M988.3 762.2h0M1035.3 685.5h0M996.5 730.9h0M990.9 706.4h0M1051.2 679.5h0M994.4 682.0h0M1008.8 657.2h0M1030.2 678.7h0M944.2 758.7h0M978.6 757.7h0M1036.7 704.9h0M1055.9 698.6h0M956.1 735.8h0M924.3 711.6h0M984.9 774.8h0M954.8 753.0h0M926.1 740.5h0M980.1 749.4h0M998.8 727.9h0M1031.2 715.7h0M1011.9 763.9h0M944.3 755.8h0M933.7 742.7h0M1043.9 723.4h0M954.6 670.2h0M950.8 725.4h0M964.9 750.9h0M996.5 777.1h0M999.9 709.3h0M997.1 681.2h0M1031.4 733.6h0M982.9 683.3h0M946.8 699.3h0M949.9 682.1h0M1034.4 639.3h0M1031.4 693.5h0M983.0 690.3h0M1034.0 709.1h0M967.8 715.7h0M959.9 720.4h0M1019.2 732.4h0M921.1 754.3h0M1011.2 759.6h0M963.1 640.5h0M920.3 762.2h0M930.4 783.4h0M1004.4 727.5h0M926.4 772.3h0M916.5 730.8h0M986.1 710.9h0M962.8 738.0h0M918.4 723.2h0M991.1 767.8h0M950.6 660.1h0M1000.7 695.5h0M932.8 739.8h0M990.7 654.4h0M899.7 719.4h0M940.5 686.7h0M995.9 684.3h0M1000.6 770.1h0M1020.6 746.2h0M1026.6 722.7h0M914.7 780.5h0M927.1 759.4h0M997.1 665.1h0M933.4 782.2h0M1014.7 638.8h0M910.3 721.5h0M1010.8 705.1h0M973.5 685.0h0M904.1 734.0h0M1037.4 701.0h0M1020.1 680.3h0M971.2 780.5h0M998.4 761.9h0M953.9 664.7h0M960.9 752.6h0M960.4 708.8h0M1056.0 707.1h0M1059.8 670.8h0M1001.7 763.5h0M992.6 677.3h0M935.8 714.3h0M991.7 660.4h0M1037.9 657.3h0M1013.6 775.4h0M1055.0 649.2h0M1007.1 734.0h0M983.7 697.4h0M986.2 744.3h0M918.1 709.2h0M960.4 695.8h0M933.8 697.6h0M973.8 758.9h0M930.1 767.9h0M1003.8 665.0h0M1018.7 717.8h0M992.8 699.9h0M963.9 671.3h0M1019.3 720.1h0M973.6 659.6h0M926.4 752.0h0M963.5 696.1h0M989.1 731.8h0M1032.5 667.3h0M980.9 704.9h0M935.3 742.7h0M1050.1 668.9h0M1048.0 709.7h0M1000.0 692.2h0M934.9 784.5h0M1012.1 717.9h0M991.6 685.4h0M922.7 774.3h0M927.0 719.9h0M1032.5 654.7h0M1048.8 686.9h0M1046.0 681.3h0M991.8 689.2h0M919.2 757.8h0M1033.3 701.3h0M939.6 755.9h0M971.4 657.1h0M991.3 669.9h0M1046.7 699.4h0M923.5 783.0h0M988.7 648.6h0M1040.2 670.1h0M925.6 773.0h0M1029.4 697.7h0M1029.8 682.6h0M926.5 786.2h0M928.3 784.4h0M915.8 730.6h0M999.3 706.0h0M995.1 672.0h0M944.4 754.3h0M979.5 660.9h0M1033.7 703.4h0M1045.4 694.8h0M1022.9 758.8h0M943.1 733.9h0M1044.1 667.1h0M926.7 758.1h0M914.9 738.9h0M939.8 766.9h0M1012.7 665.6h0M978.5 755.9h0M926.4 730.6h0M962.6 682.6h0M1016.3 648.4h0M976.4 773.6h0M1017.8 727.7h0M1036.9 663.2h0M932.7 765.2h0M919.5 742.0h0M1019.5 651.8h0M979.6 669.8h0M1010.9 712.5h0M951.0 753.7h0M972.7 720.1h0M951.7 698.9h0M923.7 775.3h0M1005.8 708.5h0M1035.9 709.9h0M946.5 760.0h0M1041.1 668.6h0M981.1 675.6h0M1040.0 717.7h0M995.0 714.7h0M976.0 674.2h0M942.8 771.2h0M971.8 738.9h0M1013.0 759.2h0M1002.1 750.7h0M1017.8 719.9h0M1028.8 707.4h0M985.9 690.5h0M1018.0 691.8h0M977.2 779.1h0M970.2 752.3h0M984.8 698.2h0M1021.3 689.8h0M921.8 771.5h0M944.8 706.1h0M913.8 759.1h0M974.0 702.9h0M1008.6 675.3h0M957.3 714.8h0M961.2 721.3h0M904.8 736.1h0M1020.1 673.4h0M953.5 720.4h0M952.0 700.3h0M937.8 718.8h0M957.3 722.8h0M1008.6 763.8h0M929.1 777.5h0M1012.4 763.3h0M983.3 721.9h0M1017.6 663.5h0M1043.9 669.8h0M927.0 725.6h0M1015.1 668.4h0M1019.5 693.7h0M920.5 737.5h0M933.8 745.4h0M952.1 750.1h0M1010.7 770.5h0M932.4 729.5h0M1026.0 740.1h0M975.5 748.5h0M915.3 751.6h0M975.6 778.7h0M1033.8 731.1h0M987.8 661.9h0M978.1 700.3h0M906.4 718.3h0M986.6 760.6h0M959.5 780.3h0M969.8 663.4h0M963.0 758.6h0M917.4 777.8h0M1021.1 665.9h0M1024.3 744.5h0M903.2 727.4h0M997.5 766.2h0M1003.8 670.6h0M1016.6 738.0h0M954.3 769.7h0M954.8 686.2h0M1009.8 743.0h0M1045.3 740.4h0M966.0 758.5h0M932.2 772.8h0M931.6 766.8h0M981.9 747.8h0M1030.6 649.4h0M992.5 652.8h0M926.7 763.8h0M909.6 743.0h0M1025.7 688.7h0M1006.1 684.0h0M912.4 742.6h0M1031.6 755.8h0M977.3 661.4h0M935.0 720.6h0M970.8 661.7h0M1011.5 641.7h0M1032.7 735.4h0M1026.9 711.1h0M962.5 718.4h0M1008.8 662.2h0M1019.0 726.3h0M946.4 708.1h0M1017.5 721.1h0M975.6 750.8h0M1003.1 742.9h0M939.4 759.3h0M970.5 761.7h0M1021.5 664.7h0M1030.9 703.7h0M981.5 771.1h0M1049.7 673.1h0M1009.1 646.6h0M920.4 783.4h0M956.7 761.8h0M998.9 653.5h0M934.9 746.1h0M930.1 775.0h0M1023.6 746.8h0M952.2 779.2h0M960.9 681.3h0M990.3 703.1h0M938.5 736.0h0M1039.9 708.0h0M982.0 653.1h0M1039.8 673.8h0M932.7 758.8h0M976.9 767.2h0M1000.8 711.1h0M1001.4 771.8h0M1029.9 674.4h0M971.6 664.3h0M969.8 757.9h0M1038.7 697.0h0M1050.8 665.0h0M1029.4 694.1h0M999.3 664.2h0M912.9 735.9h0M974.9 709.9h0M968.2 760.0h0M973.2 730.0h0M1020.1 748.7h0M978.4 710.5h0M1003.5 672.7h0M1029.1 657.3h0M972.7 680.5h0M965.5 695.2h0M969.5 687.4h0M970.2 777.9h0M981.2 715.0h0M997.0 651.8h0M1037.0 680.8h0M947.3 767.0h0M1056.6 668.3h0M946.1 741.4h0M1028.4 670.0h0M976.9 663.2h0M996.7 683.6h0M1004.0 701.5h0M952.0 742.6h0M1008.3 659.8h0M1007.3 661.9h0M937.4 757.1h0M959.7 680.4h0M1001.3 713.9h0M967.5 727.0h0M947.3 682.6h0M961.4 714.1h0M997.4 742.9h0M1043.6 742.1h0M1042.0 669.8h0M974.0 776.0h0M1040.1 696.2h0M1052.8 694.0h0M993.5 717.7h0M956.2 703.1h0M991.0 662.1h0M1047.0 679.9h0M954.8 767.5h0M945.4 716.0h0M1049.0 667.7h0M1000.0 771.2h0M1044.2 732.9h0M1046.4 717.6h0M955.0 731.0h0M1006.2 736.9h0M979.9 766.9h0M1022.5 666.6h0M938.7 763.2h0M1005.5 685.5h0M909.1 727.7h0M993.2 681.8h0M970.9 678.8h0M1058.3 675.5h0M1027.2 667.5h0M960.0 725.5h0M965.3 697.2h0M1034.2 712.6h0M1014.2 734.7h0M1021.9 710.7h0M989.9 676.7h0M1036.4 734.3h0M970.0 694.1h0M978.4 777.9h0M987.2 754.9h0M979.7 777.5h0M984.2 686.1h0M1020.4 746.4h0M1006.0 663.1h0M974.8 665.3h0M969.1 728.1h0M945.4 775.3h0M941.8 747.1h0M948.5 752.8h0M977.0 669.8h0M970.9 729.4h0M1006.3 774.6h0M1001.7 760.2h0M960.6 718.4h0M1044.9 728.8h0M1032.4 704.1h0M1023.9 762.3h0M956.3 726.1h0M930.3 745.6h0M997.4 678.1h0M1015.9 712.9h0M1016.6 751.4h0M971.4 758.3h0M1056.7 691.6h0M1020.8 754.2h0M954.7 744.0h0M944.8 717.5h0M1015.9 765.4h0M1036.1 686.0h0M928.0 744.4h0M1039.3 656.6h0M955.4 742.0h0M1044.0 727.9h0M998.4 692.8h0M903.6 718.5h0M986.3 679.0h0M1004.3 750.2h0M950.7 768.3h0M1004.8 723.5h0M1011.0 654.5h0M947.5 773.3h0M967.6 780.5h0M959.3 762.4h0M976.1 667.7h0M1035.9 692.3h0M1045.0 683.3h0M938.9 720.7h0M1058.3 671.3h0M980.5 684.2h0M999.2 749.3h0M1038.9 667.4h0M1007.6 724.3h0M1005.7 664.2h0M997.7 672.4h0M959.7 713.4h0M1023.7 704.5h0M958.6 764.5h0M976.5 665.8h0M1049.7 685.1h0M1024.0 674.6h0M998.9 659.9h0M1025.2 762.5h0M945.6 779.7h0M1024.0 750.0h0M1050.0 708.3h0M994.1 721.5h0M976.9 682.5h0M937.9 726.8h0M1032.3 725.6h0M973.1 677.3h0M1034.9 702.3h0M912.3 775.6h0M1016.6 690.1h0M947.3 715.4h0M1013.4 731.4h0M965.9 766.4h0M1004.8 683.4h0M1040.5 653.1h0M1038.7 711.7h0M977.4 752.6h0M950.8 761.8h0M993.7 741.4h0M912.5 744.0h0M946.0 751.4h0M1024.5 696.1h0M1012.6 650.5h0M991.8 705.0h0M1006.6 755.8h0M1011.9 660.0h0M954.6 713.9h0M948.6 732.0h0M1004.4 676.3h0M1024.5 691.4h0M1010.4 689.2h0M966.0 705.9h0M943.6 749.9h0M925.4 740.3h0M926.9 759.4h0M1027.7 745.5h0M1012.4 690.4h0M922.8 755.5h0M1021.2 658.3h0M932.9 746.1h0M970.9 698.1h0M945.5 743.1h0M1027.7 689.7h0M938.5 750.3h0M994.6 779.1h0M975.3 764.9h0M967.6 712.6h0M1003.2 685.8h0M914.8 743.7h0M902.6 717.3h0M985.5 658.1h0M1012.7 648.5h0M1018.4 725.2h0M923.8 720.6h0M947.2 765.4h0M959.6 728.0h0M1015.2 745.1h0M974.0 707.4h0M978.5 679.2h0M979.0 695.2h0M1025.5 674.9h0M958.1 746.6h0M953.4 760.8h0M1015.0 771.2h0M1053.0 665.2h0M963.1 773.3h0M1047.4 660.4h0M973.2 741.9h0M1000.7 746.2h0M1010.0 673.9h0M956.9 767.3h0M931.8 743.0h0M1038.6 670.1h0M1009.8 666.5h0M1030.2 712.2h0M1022.4 727.0h0M1028.5 649.7h0M989.1 671.0h0M917.5 760.4h0M944.8 769.2h0M962.9 703.1h0M908.9 726.4h0M1053.8 687.9h0M936.4 760.3h0M1009.9 750.7h0M990.9 694.0h0M959.3 776.8h0M932.2 777.3h0M977.5 676.4h0M988.3 759.7h0M927.5 728.0h0M988.9 738.8h0M1021.6 752.5h0M1023.8 649.1h0M1045.2 720.4h0M1009.0 690.1h0M980.6 710.3h0M960.9 732.0h0M957.3 775.1h0M1024.2 728.5h0M1025.5 712.6h0M1020.5 699.2h0M1000.4 669.9h0M1049.8 701.5h0M1033.6 717.1h0M1014.2 675.5h0M976.2 780.2h0M1029.1 719.2h0M944.3 696.8h0M961.8 693.2h0M968.0 685.1h0M975.1 654.5h0M985.1 776.1h0M1013.4 686.3h0M1026.6 690.0h0M1014.1 754.3h0M1029.7 717.0h0M973.8 666.3h0M969.1 779.9h0M976.3 761.6h0M1025.1 721.5h0M905.1 724.1h0M1009.1 717.9h0M1023.1 741.7h0M945.9 778.4h0M984.3 764.0h0M908.5 721.1h0M1008.9 706.6h0M1048.2 683.1h0M1016.9 707.4h0M967.5 715.5h0M967.6 665.6h0M917.8 743.2h0M992.3 775.6h0M1012.9 745.1h0M918.6 732.5h0M1014.9 715.4h0M935.0 748.8h0M991.8 691.6h0M980.4 724.2h0M934.7 779.6h0M964.8 704.3h0M960.5 715.0h0M984.9 689.5h0M1032.3 752.3h0M986.9 750.4h0M1024.0 684.4h0M913.5 780.5h0M1005.0 722.1h0M992.5 725.6h0M918.7 784.7h0M947.2 762.5h0M1004.8 656.0h0M910.8 725.5h0M973.7 664.2h0M1013.0 705.8h0M917.4 722.8h0M986.4 743.8h0M999.6 735.2h0M954.4 763.7h0M1029.4 738.7h0M1029.0 724.6h0M920.9 780.4h0M987.3 772.8h0M1002.6 671.2h0M1027.4 665.6h0M1016.5 710.7h0M1024.4 659.4h0M953.7 700.1h0M971.6 695.6h0M983.2 745.2h0M972.3 718.2h0M927.4 732.6h0M1004.8 773.5h0M995.0 678.8h0M970.2 714.0h0M912.0 723.2h0M1011.4 768.8h0M999.4 671.0h0M911.7 719.0h0M918.3 773.7h0M1052.3 675.3h0M980.5 664.2h0M957.3 769.8h0M1004.4 731.9h0M1037.8 746.3h0M995.8 710.3h0M1039.6 676.2h0M969.2 668.1h0M920.1 770.0h0M1038.1 673.9h0M1004.9 713.2h0M981.7 710.9h0M987.7 757.5h0M962.1 666.5h0M964.1 761.2h0M1044.2 655.2h0M915.5 735.7h0M958.4 775.3h0M1015.0 695.7h0M1034.4 739.0h0M967.2 762.6h0M935.6 734.8h0M998.2 683.4h0M952.8 704.0h0M974.8 668.4h0M1023.5 653.1h0M922.0 753.0h0M999.4 726.6h0M945.6 773.7h0M1032.7 660.2h0M969.1 700.7h0M983.7 682.6h0M1035.3 674.4h0M951.9 730.0h0M1002.7 711.6h0M996.9 675.6h0M988.3 752.2h0M923.6 731.2h0M1020.2 721.1h0M964.1 779.2h0M1007.7 695.2h0M927.6 734.9h0M919.9 753.3h0M955.5 693.7h0M957.5 689.9h0M962.3 748.6h0M1013.1 658.3h0M1000.3 687.0h0M1045.9 666.2h0M960.6 690.1h0M1006.6 698.4h0M1008.9 768.3h0M1054.0 693.1h0M1009.5 680.6h0M990.5 681.9h0M989.2 727.8h0M966.8 755.0h0M942.5 759.0h0M950.2 745.0h0M1013.2 647.1h0M1034.8 708.9h0M995.7 729.6h0M1001.0 676.4h0M1020.9 659.9h0M971.0 707.0h0M969.0 725.6h0M991.5 734.2h0M957.0 748.1h0M1004.9 702.7h0M958.5 693.3h0M1025.8 673.6h0M1029.6 757.5h0M961.2 709.6h0M1055.8 670.2h0M998.1 733.5h0M1013.9 691.8h0M987.8 708.8h0M922.6 765.4h0M1018.4 665.3h0M968.1 764.4h0M924.8 730.7h0M1047.3 688.4h0M961.0 774.8h0M966.8 707.8h0M1027.7 673.8h0M1007.8 706.0h0M989.2 697.2h0M943.2 732.1h0M919.3 728.7h0M976.6 771.2h0M981.3 679.2h0M947.8 702.0h0M998.8 686.3h0M999.1 703.7h0M1034.0 684.3h0M1025.4 644.9h0M995.9 769.0h0M978.9 724.9h0M980.2 753.5h0M998.4 737.5h0M943.0 724.6h0M937.5 785.5h0M1001.2 720.3h0M1031.8 715.0h0M964.5 728.1h0M1020.4 703.3h0M954.1 718.0h0M1037.7 723.6h0M961.2 711.2h0M1005.9 642.9h0M943.0 767.4h0M929.0 734.2h0M960.3 694.2h0M1041.6 676.9h0M948.3 733.9h0M993.4 667.6h0M1017.7 756.8h0M964.5 712.0h0M954.0 726.4h0M989.6 686.0h0M972.6 716.3h0M1055.1 700.0h0M944.5 704.0h0M1032.8 657.8h0M1021.2 737.6h0M986.7 683.8h0M914.5 749.3h0M930.1 759.0h0M1030.5 653.3h0M1045.3 705.3h0M983.7 768.9h0M955.1 752.5h0M1017.3 645.4h0M929.3 737.2h0M981.7 661.8h0M1051.5 666.9h0M1023.1 644.2h0M978.6 763.1h0M982.3 672.6h0M1050.6 680.7h0M1033.5 653.4h0M918.4 766.5h0M912.3 734.9h0M1042.2 687.9h0M979.3 706.2h0M923.8 748.6h0M940.7 721.0h0M977.4 750.5h0M1003.8 652.9h0M960.5 669.8h0M1025.2 703.7h0M949.9 772.6h0M1049.1 725.8h0M1023.0 745.2h0M973.2 708.8h0M1047.1 684.1h0M966.5 772.2h0M913.6 721.1h0M1025.9 691.5h0M942.8 757.9h0M917.9 755.0h0M1032.6 747.7h0M1048.2 661.8h0M1002.8 707.5h0M1032.9 655.8h0M1023.4 660.0h0M1048.8 727.3h0M1014.9 746.4h0M912.8 781.4h0M944.0 716.6h0M1007.9 676.5h0M969.4 680.3h0M1011.0 741.7h0M989.7 780.5h0M928.7 758.6h0M962.3 754.9h0M982.7 729.1h0M972.7 691.0h0M1034.2 663.1h0M992.3 709.6h0M976.2 710.9h0M924.2 729.5h0M1021.7 679.3h0M1017.4 731.6h0M1008.7 750.7h0M1017.7 686.8h0M1041.9 683.4h0M926.1 748.9h0M1010.2 745.5h0M975.6 767.3h0M947.6 704.6h0M944.9 744.0h0M988.7 744.7h0M1045.8 737.1h0M1016.9 714.5h0M1049.1 659.9h0M966.9 662.7h0M1041.6 729.2h0M1015.4 731.4h0M997.3 755.2h0M973.9 767.4h0M979.6 671.2h0M1007.9 709.8h0M959.1 721.0h0M991.0 747.7h0M987.7 776.9h0M994.6 764.7h0M1011.6 724.2h0M981.9 670.6h0M1009.0 735.9h0M1040.8 654.7h0M978.3 665.2h0M916.0 747.5h0M935.0 736.3h0M1050.3 678.9h0M1041.8 685.9h0M984.9 714.7h0M1041.5 694.5h0M1023.5 723.7h0M955.9 716.6h0M912.9 779.0h0M949.8 716.4h0M1034.7 704.8h0M1033.5 722.5h0M980.8 728.6h0M961.3 712.6h0M940.5 764.1h0M961.7 745.0h0M943.8 709.6h0M949.7 711.4h0M920.4 745.2h0M1006.3 768.6h0M1027.2 679.3h0M1046.4 673.8h0M958.4 737.6h0M913.4 718.6h0M932.7 736.9h0M946.1 754.4h0M959.1 700.4h0M930.8 729.3h0M968.0 757.2h0M1009.3 715.2h0M1017.4 700.1h0M946.5 705.4h0M989.3 733.2h0M1020.2 745.0h0M1031.3 660.2h0M976.2 659.7h0M1003.3 731.7h0M1004.6 775.5h0M1036.0 658.0h0M973.0 689.1h0M915.2 755.9h0M927.9 777.9h0M966.3 696.1h0M964.8 746.8h0M975.2 770.1h0M958.4 684.1h0M968.0 680.1h0M964.0 774.7h0M997.4 777.4h0M971.6 660.3h0M986.1 682.3h0M962.3 775.1h0M993.8 758.0h0M1058.9 686.3h0M1038.7 655.2h0M947.7 745.6h0M1012.4 708.1h0M973.1 711.7h0M981.2 694.4h0M985.3 708.6h0M990.0 743.3h0M969.1 751.3h0M944.0 707.4h0M971.2 716.3h0M1009.8 756.6h0M997.2 707.6h0M1019.3 736.4h0M948.1 754.8h0M1013.9 748.0h0M934.4 759.6h0M1000.2 742.7h0M1034.4 718.9h0M1028.9 666.3h0M940.2 733.8h0M962.9 731.7h0M982.9 776.1h0M924.7 754.7h0M1028.5 735.0h0M1017.8 650.4h0M950.8 730.9h0M1019.2 710.9h0M1010.1 707.7h0M1055.6 673.5h0M964.7 693.4h0M1014.1 644.9h0M994.8 666.9h0M1040.4 712.9h0M983.9 742.6h0M971.7 764.4h0M927.3 749.2h0M1013.4 766.6h0M1014.0 696.9h0M1013.8 721.1h0M974.8 733.2h0M1025.5 729.4h0M968.0 739.7h0M1007.9 752.6h0M1002.9 764.9h0M1014.8 685.9h0M1036.4 714.6h0M951.2 729.0h0M975.9 714.8h0M1000.3 682.0h0M1002.9 650.3h0M997.9 759.3h0M949.9 702.4h0M1024.5 738.6h0M1005.0 706.3h0M981.1 761.6h0M997.0 771.0h0M1003.1 753.8h0M1040.2 663.0h0M1002.6 728.7h0M1015.0 680.9h0M954.0 711.0h0M1002.8 727.5h0M979.9 761.3h0M1025.8 693.8h0M952.2 747.3h0M1019.0 670.0h0M924.4 758.7h0M1057.7 667.7h0M1027.0 758.2h0M984.8 682.1h0M993.2 702.1h0M982.5 696.0h0M1013.9 671.7h0M947.1 770.1h0M1042.9 676.2h0M1026.2 719.8h0M1027.2 646.7h0M949.7 753.6h0M955.7 683.8h0M1052.1 686.3h0M1037.7 719.0h0M1024.3 733.9h0M955.5 721.1h0M944.4 726.0h0M939.8 747.4h0M995.7 743.6h0M976.1 729.2h0M950.9 709.7h0M959.9 761.3h0M1041.4 718.5h0M1013.9 674.3h0M1006.5 725.4h0M966.8 723.1h0M995.9 760.2h0M936.0 783.8h0M1014.7 651.5h0M967.3 670.3h0M938.8 774.1h0M1006.3 649.4h0M1026.9 670.4h0M1035.0 730.1h0M1024.6 717.6h0M1051.9 703.6h0M965.2 688.1h0M968.6 747.4h0M1025.3 687.0h0M1020.2 731.4h0M1022.9 684.4h0M1036.3 708.2h0M980.2 750.4h0M1025.0 714.4h0M1010.9 671.2h0M1016.2 708.7h0M965.2 749.8h0M993.6 746.6h0M936.9 743.5h0M961.0 720.0h0M1039.4 733.9h0M966.0 783.4h0M1038.6 661.2h0M1027.4 718.9h0M999.0 645.6h0M914.6 770.8h0M1004.4 697.8h0M996.8 673.5h0M974.8 718.9h0M968.3 693.2h0M972.3 700.9h0M1044.6 660.8h0M939.4 780.6h0M985.9 654.0h0M985.1 740.4h0M984.0 756.4h0M1007.4 747.9h0M1025.7 733.2h0M968.2 733.2h0M960.8 778.5h0M1029.3 749.7h0M946.9 775.1h0M1012.0 657.9h0M944.5 721.0h0M979.2 776.0h0M1013.7 726.6h0M1019.1 756.8h0M1048.8 696.3h0M1036.3 737.8h0M1020.4 679.8h0M913.5 750.6h0M951.6 707.4h0M1014.2 733.0h0M968.3 777.7h0M1024.6 757.3h0M1043.6 662.8h0M922.3 758.8h0M1007.0 685.8h0M927.2 737.3h0M992.2 666.6h0M1025.1 699.3h0M997.6 709.6h0M1044.0 731.2h0M973.4 719.0h0M1004.3 733.9h0M922.9 769.5h0M988.1 650.9h0M994.1 703.8h0M978.1 709.3h0M965.4 717.3h0M993.9 659.9h0M1001.5 752.5h0M939.3 754.6h0M1033.9 674.0h0M1051.9 677.3h0M1020.2 661.9h0M924.2 762.4h0M944.6 731.0h0M1014.2 648.2h0M995.1 684.5h0M914.4 776.1h0M1056.1 697.3h0M1042.8 654.7h0M984.3 693.2h0M1048.4 704.0h0M955.5 699.4h0M991.9 714.3h0M950.6 765.4h0M1022.2 663.3h0M995.7 719.1h0M979.0 703.3h0M905.8 739.9h0M1015.4 752.0h0M1022.1 736.2h0M1058.0 689.0h0M999.9 724.9h0M948.8 705.3h0M982.6 763.9h0M975.0 761.6h0M926.4 732.1h0M954.7 759.5h0M1006.8 660.3h0M1019.0 755.4h0M1045.2 682.0h0M1003.2 657.4h0M911.0 722.4h0M994.1 651.2h0M1012.8 775.7h0M980.3 677.0h0M1012.2 727.6h0M996.6 721.7h0M1031.0 689.5h0M959.7 747.8h0M991.1 741.2h0M959.2 671.8h0M1043.5 659.6h0M980.5 776.2h0M989.6 764.7h0M984.5 732.3h0M1007.5 734.3h0M945.3 770.2h0M994.9 654.7h0M1003.2 716.9h0M1002.2 705.2h0M949.2 770.0h0M974.9 771.3h0M970.8 690.3h0M953.0 734.5h0M1041.4 674.8h0M1032.8 692.2h0M1042.3 701.6h0M996.6 775.7h0M999.7 708.9h0M931.6 751.7h0M979.8 655.6h0M966.3 728.6h0M966.9 724.6h0M1007.2 658.8h0M1047.8 667.9h0M962.0 685.5h0M1021.0 676.4h0M983.3 751.5h0M1001.3 659.2h0M1002.6 691.5h0M1037.1 693.3h0M1046.1 730.0h0M1031.2 654.6h0M1005.4 679.1h0M1015.2 760.5h0M1007.5 737.5h0M1000.5 764.0h0M990.6 751.7h0M1027.8 748.9h0M930.9 727.9h0M902.7 728.7h0M981.5 680.5h0M953.2 747.8h0M1008.3 726.1h0M984.8 669.8h0M965.3 721.1h0M982.4 720.9h0M985.6 706.3h0M1010.8 648.9h0M1031.6 706.2h0M1002.1 721.6h0M1008.8 746.3h0M1017.1 684.6h0M959.9 732.7h0M971.8 666.0h0M978.6 770.1h0M985.0 720.8h0M940.9 725.0h0M905.2 721.5h0M975.4 724.6h0M1018.5 654.2h0M988.1 719.7h0M924.4 755.9h0M923.0 721.7h0M991.4 718.3h0M1042.6 700.0h0M914.4 760.4h0M1014.2 643.1h0M993.1 648.4h0M972.6 678.9h0M987.5 678.1h0M1014.2 706.1h0M1036.5 691.1h0M930.9 780.9h0M932.7 774.6h0M1059.4 673.7h0M930.1 786.1h0M1010.3 716.9h0M928.6 719.3h0M986.4 747.2h0M914.3 740.8h0M969.7 711.6h0M965.9 683.0h0M1020.2 670.3h0M1033.0 729.4h0M979.2 656.7h0M1019.4 762.3h0M1052.7 707.4h0M993.3 698.2h0M954.8 747.9h0M989.3 704.7h0M1031.8 653.4h0M1028.4 699.2h0M988.5 750.9h0M1001.8 723.5h0M920.8 748.5h0M1034.9 651.0h0M943.7 723.2h0M944.1 772.4h0M1005.2 681.3h0M990.0 664.5h0M947.4 688.4h0M998.8 774.2h0M1048.7 731.5h0M1007.5 711.1h0M1009.1 721.2h0M1015.5 702.2h0M981.2 688.2h0M1034.7 692.5h0M998.9 691.8h0M987.0 709.9h0M1034.2 696.3h0M1036.4 665.0h0M962.8 781.6h0M971.7 687.2h0M1052.9 666.5h0M984.5 713.0h0M980.0 756.7h0M1009.5 730.2h0M906.9 728.8h0M1051.2 707.7h0M1037.5 656.9h0M1027.0 731.2h0M986.0 659.8h0M1036.1 729.0h0M987.6 666.2h0M937.6 738.1h0M1003.3 761.6h0M969.2 661.4h0M928.7 722.1h0M974.4 701.1h0M944.8 781.2h0M1021.0 714.5h0M964.9 740.3h0M1017.2 664.6h0M934.4 742.0h0M1059.5 670.1h0M1036.5 742.7h0M1028.2 704.1h0M985.6 755.1h0M1052.0 670.9h0M1009.3 699.6h0M1043.3 707.3h0M1040.9 725.7h0M1005.9 671.4h0M986.5 703.0h0M951.6 751.3h0M954.0 716.1h0M997.5 765.0h0M1051.5 694.7h0M971.8 759.7h0M1050.1 676.1h0M950.8 700.2h0M987.6 756.1h0M901.5 726.2h0M947.3 737.0h0M1007.0 761.4h0M1021.1 729.8h0M954.7 745.3h0M975.0 726.9h0M1016.7 749.4h0M1035.1 684.5h0M1020.3 655.1h0M991.3 779.0h0M1050.0 692.1h0M971.9 744.6h0M952.7 777.7h0M1011.5 754.4h0M1040.0 705.4h0M995.3 734.3h0M1036.1 745.0h0M994.6 711.9h0M916.1 783.8h0M990.5 755.5h0M1034.0 746.3h0M1039.9 691.7h0M948.4 740.1h0M950.1 752.4h0M1007.1 691.4h0M1017.0 673.9h0M1033.2 748.8h0M972.0 780.2h0M982.1 674.8h0M1052.6 684.4h0M1001.0 662.6h0M931.3 776.3h0M977.5 744.1h0M982.0 706.5h0M994.9 772.8h0M952.9 724.1h0M975.6 728.2h0M932.4 763.7h0M995.2 663.7h0M978.2 683.1h0M980.5 765.6h0M968.9 709.6h0M990.8 770.6h0M1014.0 689.6h0M973.8 682.3h0M1057.0 685.4h0M961.0 672.6h0M1012.8 749.6h0M916.0 764.2h0M1007.9 704.5h0M961.5 759.0h0M949.9 746.5h0M945.2 690.9h0M959.5 675.9h0M963.0 744.3h0M965.6 770.3h0M1020.4 650.0h0M925.0 722.1h0M973.3 750.0h0M959.2 740.3h0M963.5 782.8h0M995.3 771.5h0M1030.2 663.2h0M990.0 656.7h0M1013.2 770.5h0M964.6 763.2h0M1023.4 752.9h0M1051.9 706.4h0M1027.6 722.1h0M997.3 732.2h0M991.9 735.8h0M995.8 674.5h0M1025.5 672.2h0M982.0 718.5h0M1027.2 724.2h0M979.4 743.9h0M1005.5 769.9h0M926.7 739.0h0M1022.4 692.4h0M998.0 726.2h0M1001.7 773.1h0M952.6 757.0h0M986.0 686.4h0M1042.1 690.2h0M929.8 749.0h0M1038.1 684.9h0M1049.5 683.9h0M958.8 725.9h0M961.8 773.3h0M969.2 739.6h0M972.5 768.8h0M998.2 712.4h0M985.5 693.5h0M910.4 729.6h0M964.7 729.9h0M947.6 747.8h0M1020.3 646.0h0M975.5 781.6h0M937.8 777.2h0M914.6 745.5h0M965.0 676.9h0M993.0 692.0h0M1011.5 651.1h0M1009.0 758.0h0M921.0 769.0h0M993.1 732.1h0M987.1 753.3h0M989.1 694.9h0M1012.4 673.2h0M990.6 773.1h0M972.0 719.3h0M982.7 683.9h0M945.9 730.0h0M1005.4 728.2h0M1006.5 747.1h0M957.2 708.9h0M929.5 743.0h0M950.8 703.4h0M964.6 718.8h0M913.3 731.5h0M1021.9 702.3h0M949.4 709.0h0M1021.6 740.4h0M1014.7 657.6h0M1031.4 699.2h0M981.9 732.1h0M973.1 684.5h0M995.0 700.9h0M917.2 785.3h0M1042.7 682.1h0M915.5 740.8h0M958.2 748.6h0M986.0 680.9h0M989.7 775.8h0M1032.4 681.0h0M1027.5 697.5h0M909.4 719.4h0M957.3 744.9h0M1022.3 669.8h0M997.2 739.0h0M1016.6 659.7h0M961.5 701.4h0M1017.5 671.9h0M926.3 779.2h0M921.9 744.1h0M1039.9 672.3h0M923.2 760.7h0M985.0 656.6h0M1031.8 651.5h0M969.7 683.6h0M969.7 759.5h0M946.4 698.4h0M938.2 734.4h0M919.8 758.8h0M987.7 780.4h0M1010.0 748.1h0M931.9 723.6h0M972.2 671.9h0M998.6 720.0h0M916.0 770.5h0M1019.1 753.7h0M988.9 652.5h0M975.3 671.7h0M981.2 772.9h0M954.1 776.1h0M958.7 686.2h0M963.7 698.0h0M929.5 747.6h0M970.0 742.1h0M903.7 721.0h0M989.2 712.1h0M965.1 672.8h0M1016.5 665.6h0M957.1 672.6h0M1008.2 772.4h0M1044.3 702.1h0M999.5 650.2h0M1047.4 732.4h0M916.1 774.4h0M1034.6 737.2h0M957.2 778.8h0M940.8 782.2h0M968.7 756.0h0M949.6 680.1h0M1058.0 669.7h0M1050.6 677.6h0M1043.2 704.8h0M994.2 669.0h0M966.0 779.6h0M1020.8 757.7h0M1028.0 747.7h0M922.5 777.7h0M940.1 744.2h0M1001.2 766.0h0M929.5 755.5h0M1025.7 677.8h0M994.4 736.4h0M1026.1 704.4h0M917.9 781.6h0M965.0 726.2h0M1014.5 655.3h0M1008.9 708.9h0M921.0 777.8h0M985.5 759.0h0M1017.3 654.8h0M957.8 712.2h0M1016.0 755.0h0M1001.7 757.5h0M1037.9 738.8h0M1004.9 689.1h0M1048.6 702.8h0M904.2 623.0h0M909.5 696.7h0M1054.5 710.3h0M965.0 787.2h0M324.5 775.6h0M302.8 812.7h0M313.5 828.8h0M335.4 745.1h0M317.0 817.0h0M380.6 758.9h0M350.8 727.1h0M345.4 782.6h0M363.1 776.2h0M357.0 847.3h0M311.9 855.7h0M364.1 825.6h0M369.6 759.5h0M342.2 768.9h0M319.0 815.7h0M386.8 792.4h0M356.6 782.1h0M333.6 805.1h0M376.6 792.9h0M367.6 761.0h0M401.4 799.0h0M369.1 821.5h0M311.4 783.6h0M352.5 761.1h0M403.2 833.7h0M384.7 838.2h0M397.2 824.5h0M358.5 729.9h0M303.9 852.2h0M336.2 780.6h0M336.6 818.9h0M347.6 832.0h0M324.3 795.7h0M350.7 787.7h0M352.7 845.4h0M374.4 799.0h0M380.0 797.5h0M321.9 842.9h0M371.3 796.4h0M317.1 771.5h0M340.4 760.7h0M314.0 804.9h0M389.4 810.1h0M376.6 836.2h0M378.2 786.7h0M365.5 730.9h0M376.8 806.8h0M310.5 837.0h0M355.0 792.1h0M394.5 822.8h0M320.9 827.3h0M408.3 799.6h0M351.2 796.6h0M411.9 804.3h0M358.9 815.6h0M347.1 849.3h0M358.5 767.2h0M370.5 798.0h0M339.3 858.9h0M331.4 788.9h0M335.5 800.0h0M337.2 745.7h0M292.7 822.1h0M339.6 839.7h0M317.1 784.6h0M352.1 822.6h0M410.0 805.6h0M365.9 813.4h0M368.9 794.1h0M395.6 807.8h0M361.9 779.2h0M315.2 791.4h0M311.1 801.4h0M293.4 839.3h0M335.4 747.2h0M399.1 799.1h0M358.7 743.8h0M326.9 784.1h0M311.9 842.2h0M362.6 735.0h0M317.4 825.4h0M356.2 748.9h0M369.1 753.3h0M360.4 798.9h0M388.4 838.6h0M321.7 804.0h0M331.3 776.4h0M378.2 802.5h0M339.0 816.0h0M378.6 827.4h0M299.1 836.3h0M324.7 784.0h0M312.5 781.0h0M333.0 858.8h0M330.1 806.2h0M345.2 786.2h0M359.7 843.0h0M325.3 818.6h0M360.2 751.7h0M331.6 861.9h0M364.4 747.3h0M353.1 741.2h0M335.2 803.6h0M311.2 831.0h0M307.5 846.1h0M326.3 860.1h0M322.8 801.4h0M317.6 857.5h0M383.2 784.4h0M348.7 817.4h0M389.1 804.0h0M363.9 751.0h0M357.6 747.5h0M337.8 759.9h0M332.8 810.6h0M392.1 835.5h0M365.5 758.6h0M303.9 815.8h0M361.0 762.2h0M332.0 740.7h0M327.7 756.8h0M328.4 787.8h0M365.9 795.1h0M307.5 798.6h0M295.8 827.1h0M366.4 808.9h0M311.0 808.2h0M402.1 816.4h0M339.3 824.8h0M354.6 734.4h0M339.2 750.8h0M379.4 818.6h0M356.0 807.7h0M321.1 769.2h0M333.2 856.5h0M323.0 840.7h0M323.5 814.9h0M320.1 801.4h0M339.5 786.2h0M336.0 839.3h0M392.4 801.6h0M330.6 781.3h0M359.4 823.0h0M321.6 744.2h0M341.7 816.4h0M385.2 809.9h0M403.7 830.4h0M336.2 835.0h0M329.6 740.9h0M332.2 814.0h0M311.2 790.9h0M341.4 748.7h0M342.1 838.5h0M386.7 832.7h0M328.7 844.9h0M333.2 729.3h0M347.9 805.7h0M314.1 850.9h0M380.8 823.0h0M354.7 794.6h0M357.6 835.1h0M366.2 811.7h0M322.1 750.0h0M370.2 778.5h0M358.9 827.0h0M331.8 847.2h0M332.7 791.0h0M378.5 777.5h0M320.7 815.7h0M376.6 771.1h0M326.5 840.8h0M361.5 813.9h0M373.8 774.9h0M338.1 731.8h0M345.6 733.0h0M336.8 752.9h0M319.0 767.4h0M354.5 853.4h0M390.6 824.0h0M383.0 841.2h0M316.9 793.7h0M387.8 800.6h0M316.4 786.2h0M386.5 810.9h0M382.3 797.1h0M402.0 821.6h0M344.5 813.5h0M352.9 832.2h0M316.1 836.1h0M380.0 781.8h0M322.4 857.1h0M367.6 800.8h0M361.7 784.3h0M347.6 725.0h0M384.4 805.1h0M316.9 781.2h0M337.0 838.1h0M370.0 832.9h0M366.7 840.7h0M312.2 839.7h0M377.6 753.5h0M394.1 802.8h0M347.8 830.1h0M308.7 809.8h0M355.5 779.0h0M351.4 742.5h0M392.6 792.0h0M326.1 812.8h0M365.4 778.5h0M312.6 851.5h0M329.3 784.0h0M331.1 783.9h0M347.6 825.5h0M346.2 735.0h0M390.3 796.8h0M305.9 813.2h0M328.6 777.6h0M356.9 739.3h0M352.5 849.7h0M337.4 794.1h0M376.3 804.1h0M355.1 755.6h0M358.2 757.4h0M331.9 754.7h0M338.2 781.4h0M361.5 724.4h0M316.1 765.2h0M324.7 827.9h0M363.1 723.6h0M368.1 818.1h0M325.8 849.2h0M330.3 734.7h0M293.6 826.1h0M340.2 780.6h0M316.2 820.4h0M343.2 800.0h0M359.9 773.7h0M387.0 794.3h0M335.4 850.7h0M400.5 794.0h0M349.7 729.2h0M324.9 808.7h0M297.1 846.6h0M350.7 824.2h0M346.1 738.6h0M341.5 858.2h0M376.8 818.3h0M319.1 779.4h0M312.3 806.5h0M397.5 802.3h0M353.6 738.0h0M314.8 785.9h0M381.0 813.1h0M366.4 817.8h0M344.1 817.3h0M304.8 805.8h0M361.3 809.9h0M348.8 822.1h0M397.3 798.3h0M317.9 790.2h0M345.4 742.4h0M311.8 829.1h0M358.8 768.7h0M345.7 726.7h0M375.9 760.8h0M333.4 847.0h0M351.5 774.5h0M372.2 772.3h0M374.0 783.8h0M337.7 736.5h0M337.2 728.6h0M367.4 785.4h0M357.1 801.0h0M375.3 752.6h0M357.2 816.1h0M338.7 829.1h0M371.0 808.2h0M314.3 826.7h0M341.1 825.4h0M365.2 756.0h0M319.7 863.2h0M304.8 845.7h0M324.9 798.4h0M375.5 755.5h0M365.2 839.9h0M386.1 788.4h0M402.0 795.6h0M334.0 733.2h0M377.5 831.2h0M327.6 820.4h0M350.5 751.5h0M384.9 831.8h0M399.1 817.0h0M396.2 826.4h0M305.7 831.5h0M341.6 723.6h0M347.4 801.0h0M375.5 830.8h0M374.2 833.2h0M336.9 726.4h0M308.8 861.4h0M294.7 828.5h0M352.9 799.9h0M307.6 832.4h0M343.7 748.6h0M375.7 820.6h0M369.7 842.7h0M372.2 805.5h0M296.1 840.7h0M308.9 857.3h0M325.8 804.2h0M373.0 760.3h0M314.9 840.7h0M316.2 797.0h0M342.0 853.8h0M335.4 843.0h0M327.1 759.0h0M316.9 834.3h0M382.4 767.2h0M324.7 793.4h0M337.1 772.3h0M386.0 836.2h0M335.3 738.1h0M320.1 762.6h0M391.6 809.1h0M313.9 787.3h0M319.1 785.5h0M392.6 795.3h0M375.9 800.3h0M294.1 842.7h0M323.8 805.4h0M321.8 823.2h0M361.0 796.2h0M347.5 847.5h0M348.3 858.0h0M330.9 842.5h0M326.3 787.9h0M370.2 804.8h0M330.4 823.4h0M343.7 843.3h0M342.2 841.2h0M326.4 805.7h0M336.1 773.8h0M334.9 808.3h0M353.6 768.2h0M380.1 806.9h0M298.9 825.8h0M367.0 832.9h0M366.0 735.9h0M296.9 819.9h0M334.4 726.6h0M395.0 832.5h0M354.1 780.2h0M347.9 798.0h0M323.8 779.8h0M365.6 842.0h0M383.8 827.1h0M382.8 817.0h0M385.9 775.6h0M332.8 723.4h0M314.5 822.9h0M325.6 773.6h0M300.7 821.6h0M336.2 741.9h0M340.4 804.0h0M389.5 815.0h0M330.3 728.7h0M312.2 799.1h0M406.3 796.1h0M328.2 863.0h0M370.7 789.2h0M385.4 806.8h0M337.7 802.5h0M319.6 807.8h0M317.8 821.6h0M323.5 820.2h0M333.2 824.5h0M325.4 745.2h0M361.7 717.9h0M371.3 749.1h0M404.0 795.6h0M346.4 774.5h0M363.0 837.0h0M313.4 778.5h0M373.3 791.1h0M384.1 790.2h0M406.8 801.3h0M350.7 812.3h0M370.2 826.6h0M349.5 719.0h0M348.0 749.6h0M343.0 744.6h0M321.5 746.9h0M356.2 798.5h0M393.6 806.7h0M389.3 833.5h0M343.1 805.2h0M371.3 847.4h0M363.6 815.0h0M302.0 839.7h0M324.7 801.2h0M400.9 830.4h0M334.6 790.5h0M367.6 798.6h0M371.7 837.9h0M339.9 802.3h0M342.9 795.1h0M314.2 843.4h0M362.5 834.0h0M391.7 814.4h0M388.9 829.4h0M334.8 795.7h0M305.2 810.9h0M334.5 854.2h0M340.7 762.6h0M327.3 855.4h0M312.2 817.4h0M346.0 830.7h0M335.4 778.6h0M385.4 794.5h0M357.0 771.4h0M336.9 762.7h0M354.2 826.6h0M403.6 801.3h0M372.7 821.3h0M296.8 842.5h0M338.5 792.3h0M327.8 823.3h0M344.8 847.2h0M377.9 840.2h0M315.9 813.6h0M363.9 733.6h0M337.1 784.5h0M320.8 756.1h0M354.5 846.0h0M363.2 720.0h0M355.9 843.2h0M410.6 802.6h0M320.3 859.9h0M402.0 825.8h0M395.9 813.4h0M328.9 836.4h0M361.4 764.9h0M324.2 832.2h0M367.5 815.4h0M332.9 759.1h0M356.8 768.6h0M335.2 812.9h0M355.2 740.8h0M357.2 854.7h0M329.3 794.9h0M359.4 749.0h0M348.2 835.3h0M349.7 767.6h0M330.1 810.9h0M319.6 787.2h0M351.7 816.0h0M378.0 799.1h0M366.3 753.0h0M361.2 832.8h0M322.4 859.2h0M327.1 731.1h0M385.8 801.0h0M356.7 823.4h0M336.8 830.3h0M371.9 824.9h0M386.2 773.5h0M314.3 794.6h0M350.4 819.2h0M377.5 825.9h0M379.9 790.6h0M310.5 822.6h0M356.6 732.3h0M321.9 784.1h0M291.6 829.7h0M378.3 835.2h0M346.1 721.4h0M361.3 748.2h0M369.8 747.2h0M355.0 759.9h0M343.9 857.1h0M356.8 819.7h0M320.6 852.8h0M329.0 799.6h0M317.1 854.0h0M331.4 800.1h0M322.5 851.0h0M312.6 822.5h0M333.0 784.5h0M331.1 831.4h0M365.9 805.4h0M321.2 839.8h0M360.9 730.6h0M366.2 836.5h0M348.6 850.2h0M344.5 837.7h0M360.6 805.7h0M372.9 766.2h0M329.5 733.3h0M391.9 812.7h0M322.9 861.8h0M354.6 815.2h0M300.7 824.9h0M364.7 847.6h0M379.6 821.5h0M295.8 836.0h0M378.9 788.3h0M328.7 761.6h0M287.1 829.2h0M374.6 841.7h0M368.3 766.4h0M358.5 759.7h0M347.4 786.4h0M328.2 828.8h0M326.6 831.3h0M318.1 804.8h0M326.5 856.9h0M368.9 847.5h0M355.4 839.7h0M338.7 847.1h0M376.3 842.0h0M330.9 836.1h0M348.8 763.7h0M362.4 759.4h0M363.4 810.0h0M359.8 757.1h0M363.9 789.0h0M357.5 784.6h0M301.2 816.6h0M313.2 789.2h0M375.8 790.3h0M305.3 858.0h0M382.4 828.3h0M372.3 828.9h0M345.0 809.5h0M345.7 843.7h0M371.2 780.3h0M352.6 758.5h0M353.6 746.6h0M327.9 739.4h0M312.1 810.6h0M338.8 778.0h0M318.0 841.3h0M321.7 763.0h0M377.1 751.9h0M371.3 843.2h0M353.9 745.0h0M323.6 758.1h0M329.7 816.7h0M369.4 768.3h0M312.1 862.4h0M373.2 802.5h0M367.2 846.8h0M341.4 846.6h0M299.4 822.9h0M335.0 847.3h0M351.8 806.6h0M383.5 772.0h0M315.4 847.9h0M335.6 833.3h0M371.0 723.3h0M380.4 728.7h0M372.7 733.4h0M384.3 742.0h0M386.7 749.0h0M387.8 756.0h0M397.2 765.3h0M398.3 771.2h0M394.8 780.5h0M402.3 781.0h0M409.3 794.5h0M396.0 812.7h0M403.5 815.5h0M406.5 826.5h0M406.5 848.2h0M403.5 851.7h0M369.6 860.3h0M349.3 863.3h0M314.3 865.7h0M470.8 859.7h0M415.8 815.2h0M451.2 837.1h0M454.0 853.0h0M472.0 844.5h0M437.2 831.9h0M428.9 834.7h0M480.5 861.0h0M469.0 860.1h0M476.9 861.7h0M478.1 853.7h0M462.7 860.1h0M448.9 837.3h0M477.6 852.4h0M469.2 865.1h0M430.2 824.6h0M431.9 826.6h0M454.2 845.6h0M463.4 856.3h0M414.1 812.8h0M467.7 866.4h0M428.1 839.3h0M412.3 820.2h0M433.1 832.7h0M476.4 849.3h0M460.6 857.7h0M411.3 810.9h0M462.2 854.3h0M470.7 857.8h0M412.2 813.5h0M432.2 828.3h0M449.8 840.3h0M464.8 842.5h0M430.2 826.4h0M455.9 841.5h0M472.9 853.0h0M421.4 824.9h0M469.7 850.8h0M453.8 842.8h0M416.7 816.5h0M462.8 844.2h0M447.4 835.4h0M426.2 823.2h0M458.0 855.3h0M421.7 834.8h0M451.3 846.8h0M438.7 828.0h0M451.3 850.1h0M470.6 855.9h0M443.9 836.1h0M475.0 848.6h0M469.0 844.8h0M438.5 840.1h0M467.4 859.5h0M475.1 860.8h0M425.1 825.4h0M460.4 840.2h0M442.0 840.0h0M440.0 830.3h0M416.9 813.3h0M466.5 864.1h0M457.6 845.1h0M457.2 839.3h0M473.6 857.0h0M424.8 837.4h0M416.1 820.1h0M434.0 830.0h0M422.5 830.7h0M433.7 834.2h0M449.4 846.1h0M443.3 833.1h0M472.1 862.5h0M440.9 835.1h0M421.0 818.1h0M476.2 856.6h0M447.3 838.3h0M481.8 853.9h0M466.2 855.1h0M459.3 859.0h0M429.6 822.0h0M452.7 850.6h0M455.9 845.3h0M424.4 821.8h0M419.2 822.9h0M477.7 858.1h0M460.2 842.0h0M429.4 832.0h0M449.2 843.7h0M466.1 841.9h0M461.4 842.8h0M436.6 840.2h0M469.0 852.2h0M477.9 848.0h0M411.9 818.5h0M428.6 836.2h0M474.5 868.5h0M483.7 877.8h0M511.7 877.8h0M502.2 870.2h0M492.4 876.4h0M499.3 878.8h0M510.3 877.2h0M494.9 873.2h0M495.6 878.3h0M483.5 868.8h0M491.7 879.9h0M507.2 880.1h0M509.5 870.3h0M496.0 887.7h0M507.3 878.6h0M502.5 884.3h0M506.4 871.4h0M508.3 874.4h0M510.8 875.9h0M483.7 872.0h0M500.2 883.3h0M484.2 870.0h0M498.8 875.2h0M491.7 873.3h0M487.5 874.5h0M480.3 877.1h0M504.2 883.5h0M487.5 878.6h0M503.2 878.9h0M475.6 870.8h0M483.4 881.2h0M497.0 878.0h0M493.3 882.6h0M496.8 867.6h0M486.0 882.0h0M506.7 873.4h0M483.5 873.8h0M501.2 877.7h0M479.6 874.2h0M498.1 879.4h0M484.0 880.0h0M498.3 870.3h0M482.3 873.6h0M483.0 875.9h0M501.4 884.6h0M505.1 884.8h0M511.7 882.1h0M506.0 879.1h0M496.6 873.6h0M494.5 866.6h0M500.6 868.7h0M498.0 872.0h0M504.7 869.0h0M511.9 876.4h0M513.4 876.7h0M503.5 868.7h0M496.5 869.1h0M502.7 880.1h0M484.7 867.3h0M497.7 881.2h0M512.8 881.1h0M509.2 881.7h0M489.9 868.2h0M496.0 865.4h0M499.3 865.8h0M496.1 884.1h0M487.5 867.2h0M492.5 865.9h0M506.3 877.2h0M496.6 880.0h0M497.4 885.4h0M504.6 877.0h0M503.2 877.3h0M493.8 873.3h0M493.0 871.9h0M500.8 872.9h0M498.0 883.2h0M503.6 881.2h0M488.9 880.8h0M480.6 879.1h0M478.0 871.5h0M500.0 889.0h0M499.4 890.5h0M502.6 874.6h0M499.5 870.6h0M497.4 893.9h0M496.8 889.2h0M495.7 886.8h0M482.3 855.9h0M481.7 860.0h0M481.1 863.5h0M452.0 854.0h0M447.0 848.5h0M503.3 903.7h0M504.0 910.0h0M507.5 915.8h0M508.7 919.3h0M509.4 923.3h0M525.0 909.5h0M511.0 932.9h0M515.0 952.0h0M518.0 969.0h0M519.9 975.3h0M520.3 982.3h0M522.7 988.2h0M524.3 994.0h0M531.5 989.3h0M530.8 995.2h0M534.3 1000.5h0M532.0 1005.7h0M528.5 1008.0h0M525.0 1010.3h0M522.7 1013.8h0M515.7 1012.2h0M527.3 1013.8h0M519.2 973.0h0M521.5 985.1h0M526.2 1011.5h0M529.7 1003.3h0M436.3 1045.3h0M439.8 1043.0h0M442.6 1041.1h0M438.2 1044.2h0M518.0 1013.8h0M520.3 1016.2h0M523.8 1015.0h0M529.7 1011.5h0M533.2 1003.3h0M514.5 1015.0h0M610.2 842.3h0M609.0 846.5h0M613.2 852.8h0M614.4 859.8h0M615.5 862.9h0M618.3 869.9h0M620.7 876.2h0M622.5 879.2h0M624.9 883.2h0M623.7 889.5h0M629.3 890.2h0M631.9 893.2h0M634.2 897.2h0M629.3 903.0h0M637.0 903.5h0M635.8 908.1h0M640.0 912.3h0M634.7 915.8h0M638.9 918.2h0M632.3 921.0h0M628.8 924.0h0M626.0 925.9h0M635.8 913.5h0M633.5 894.8h0M693.0 929.8h0M655.7 980.5h0M658.0 982.8h0M660.3 984.7h0M595.1 680.4h0M609.9 700.9h0M623.2 686.9h0M652.2 693.2h0M599.9 685.6h0M606.3 666.2h0M598.6 679.9h0M604.9 652.9h0M636.2 697.2h0M610.7 699.9h0M610.8 669.1h0M614.0 687.2h0M620.3 649.3h0M615.5 665.5h0M632.7 696.7h0M632.7 699.2h0M632.6 704.5h0M613.1 657.1h0M599.8 668.4h0M619.8 696.1h0M644.2 693.6h0M614.4 671.8h0M595.6 665.0h0M605.9 649.6h0M618.8 680.5h0M624.2 683.5h0M641.5 667.3h0M612.7 689.9h0M596.3 682.1h0M622.4 690.7h0M609.7 690.1h0M631.7 701.6h0M633.0 683.3h0M600.1 686.9h0M600.8 658.8h0M597.2 655.1h0M637.2 687.4h0M634.4 662.6h0M618.2 700.3h0M645.8 663.7h0M625.4 661.6h0M620.5 704.1h0M638.1 693.7h0M606.6 688.3h0M640.2 672.3h0M611.1 655.4h0M626.1 676.3h0M660.7 695.2h0M639.1 699.4h0M649.4 695.0h0M625.6 666.9h0M596.9 685.1h0M637.1 664.9h0M599.6 646.8h0M609.4 649.3h0M601.3 655.2h0M624.7 695.0h0M599.7 675.1h0M646.3 660.0h0M665.1 689.5h0M647.1 675.0h0M649.3 668.0h0M627.0 669.4h0M618.7 686.0h0M632.1 698.0h0M593.3 669.3h0M610.8 661.7h0M643.4 697.7h0M625.3 690.2h0M598.4 673.9h0M622.3 701.4h0M639.2 664.4h0M613.0 685.8h0M642.5 697.0h0M622.2 655.3h0M601.1 668.1h0M610.0 650.7h0M639.2 665.7h0M610.0 664.3h0M626.3 665.4h0M611.6 653.5h0M618.4 654.5h0M630.4 696.5h0M599.6 661.3h0M612.6 687.2h0M604.3 680.5h0M622.0 678.9h0M609.0 660.0h0M629.4 668.2h0M614.0 680.7h0M611.8 649.6h0M650.1 693.5h0M614.3 700.5h0M649.9 677.9h0M652.6 678.7h0M603.2 657.9h0M601.4 666.0h0M613.8 682.7h0M627.2 651.6h0M605.7 645.1h0M614.4 675.6h0M614.1 652.0h0M604.5 699.5h0M601.2 694.9h0M641.8 701.9h0M644.8 678.9h0M637.2 668.2h0M615.3 649.2h0M653.4 685.8h0M634.0 696.6h0M606.9 668.5h0M620.1 692.5h0M639.7 659.4h0M628.3 684.3h0M644.8 654.4h0M653.8 683.0h0M619.1 663.7h0M631.7 674.7h0M639.9 679.0h0M614.9 689.5h0M619.5 703.2h0M627.7 656.9h0M609.9 643.4h0M629.4 655.8h0M607.6 684.3h0M597.4 678.5h0M610.0 654.6h0M620.4 654.1h0M648.4 658.1h0M622.1 659.9h0M647.5 691.4h0M657.9 696.2h0M605.0 675.7h0M601.7 693.2h0M648.6 677.4h0M608.6 694.5h0M620.8 658.0h0M597.0 650.3h0M647.3 663.9h0M659.3 684.2h0M655.0 686.4h0M601.8 701.9h0M601.8 652.2h0M633.3 693.5h0M648.4 696.6h0M651.2 694.7h0M631.8 656.6h0M636.7 672.8h0M643.2 657.7h0M597.9 671.4h0M614.6 694.8h0M615.2 693.8h0M601.7 696.0h0M619.0 661.0h0M598.5 654.8h0M625.3 671.9h0M618.0 701.5h0M645.7 696.2h0M602.0 649.9h0M606.2 695.1h0M598.1 684.5h0M623.4 693.8h0M647.9 666.0h0M650.6 668.1h0M608.7 657.5h0M595.5 691.4h0M640.0 677.4h0M601.4 700.4h0M602.7 652.8h0M660.2 692.4h0M622.1 649.8h0M605.0 674.5h0M608.7 677.3h0M638.9 700.8h0M638.1 673.9h0M616.3 659.2h0M609.2 693.4h0M662.1 692.4h0M621.5 680.0h0M595.6 692.8h0M644.0 684.5h0M596.6 690.1h0M605.5 651.2h0M631.5 657.9h0M603.4 648.1h0M653.7 688.5h0M642.1 680.3h0M640.9 700.5h0M600.7 683.1h0M648.2 674.5h0M614.9 698.4h0M629.0 676.8h0M631.7 703.2h0M611.3 701.2h0M640.9 681.3h0M628.4 703.0h0M643.2 677.8h0M600.2 694.2h0M620.6 689.3h0M609.4 667.8h0M598.1 659.1h0M631.5 680.6h0M645.8 667.9h0M649.0 670.7h0M633.1 659.2h0M602.6 668.6h0M633.3 702.6h0M647.3 670.7h0M640.6 679.9h0M649.1 659.4h0M607.0 649.7h0M608.6 645.4h0M628.5 682.3h0M611.5 683.0h0M603.4 662.0h0M635.8 662.5h0M618.2 657.4h0M609.5 675.4h0M631.5 686.8h0M616.6 663.6h0M625.6 659.0h0M623.6 661.7h0M623.4 692.0h0M638.0 676.0h0M606.9 646.2h0M639.8 684.3h0M632.7 675.5h0M621.2 685.0h0M633.4 667.4h0M603.0 659.0h0M631.7 663.0h0M630.5 691.8h0M627.9 689.7h0M654.4 695.7h0M603.3 654.0h0M611.1 656.5h0M626.9 677.3h0M606.2 687.0h0M644.1 664.3h0M608.8 666.0h0M640.6 657.8h0M626.3 689.3h0M626.4 705.7h0M619.6 668.2h0M609.7 703.3h0M630.5 699.7h0M630.3 676.8h0M607.5 676.4h0M649.2 655.9h0M650.9 672.3h0M652.9 691.1h0M640.3 670.2h0M625.3 684.3h0M620.7 647.9h0M608.7 687.5h0M622.4 668.2h0M643.6 663.4h0M613.1 691.5h0M636.1 698.4h0M618.1 677.2h0M600.5 670.6h0M647.7 672.5h0M617.7 698.9h0M612.6 648.1h0M615.9 701.3h0M636.9 681.0h0M639.0 690.3h0M610.3 647.3h0M656.3 694.9h0M626.0 694.6h0M670.2 697.4h0M665.3 691.9h0M664.5 695.4h0M672.0 720.0h0M672.3 719.5h0M674.9 726.1h0M673.0 710.0h0M668.1 701.7h0M675.8 717.4h0M673.9 722.3h0M668.7 702.2h0M675.2 725.1h0M674.6 726.2h0M677.5 732.4h0M668.4 697.8h0M676.7 729.3h0M679.6 731.2h0M677.6 731.9h0M670.9 709.9h0M675.0 712.9h0M659.9 689.6h0M674.5 709.9h0M666.3 696.9h0M674.5 711.7h0M678.2 729.0h0M662.3 694.5h0M673.4 716.4h0M678.2 731.2h0M671.9 710.3h0M658.1 689.3h0M659.5 690.7h0M673.9 712.0h0M674.8 723.3h0M671.7 721.5h0M669.1 699.2h0M677.2 729.9h0M676.8 726.7h0M663.4 695.0h0M673.7 713.3h0M660.6 692.9h0M662.4 689.6h0M669.2 700.7h0M645.6 706.9h0M653.9 709.1h0M660.0 714.9h0M663.5 712.5h0M649.1 704.5h0M657.6 704.5h0M649.1 696.5h0M653.9 697.6h0M614.7 706.7h0M621.9 711.2h0M600.8 701.3h0M598.1 712.5h0M599.5 714.7h0M594.7 721.9h0M593.3 724.5h0M590.4 730.1h0M588.3 735.7h0M585.3 740.5h0M583.5 744.0h0M580.8 747.5h0M562.4 782.0h0M571.1 781.0h0M549.8 770.2h0M570.8 769.6h0M563.2 778.7h0M569.6 782.4h0M560.5 773.3h0M568.6 778.4h0M563.1 766.1h0M570.2 764.2h0M577.1 774.2h0M572.2 774.8h0M550.8 780.5h0M553.4 774.6h0M560.4 783.8h0M575.4 778.9h0M550.6 765.8h0M549.2 772.1h0M557.9 766.0h0M554.2 769.4h0M567.9 772.5h0M562.2 765.4h0M563.2 783.9h0M546.9 769.8h0M554.3 765.4h0M571.5 773.7h0M578.9 771.7h0M573.6 769.8h0M557.0 762.1h0M546.8 765.4h0M579.4 776.1h0M561.1 763.6h0M549.4 766.4h0M575.7 769.2h0M550.4 762.8h0M578.4 769.8h0M553.4 772.1h0M545.0 765.6h0M552.3 769.1h0M580.5 776.4h0M561.2 778.7h0M557.4 763.9h0M541.7 772.0h0M545.0 768.0h0M564.4 780.9h0M550.1 774.6h0M551.1 778.6h0M573.4 771.0h0M546.1 772.0h0M554.3 773.9h0M570.3 776.9h0M549.4 777.5h0M570.1 778.8h0M552.2 763.1h0M556.8 775.8h0M568.8 773.2h0M568.5 764.3h0M557.6 768.3h0M560.6 780.5h0M552.9 764.8h0M559.0 778.4h0M544.9 770.2h0M574.9 767.5h0M556.5 767.5h0M572.2 777.4h0M555.3 779.0h0M567.2 765.7h0M563.9 771.3h0M554.1 789.9h0M551.5 793.9h0M553.9 796.0h0M611.5 782.1h0M610.1 786.7h0M610.9 784.3h0M611.5 841.0h0M609.5 845.0h0M610.5 849.0h0M720.8 718.1h0M726.7 720.0h0M730.7 721.3h0M733.3 718.1h0M737.3 715.2h0M741.3 718.1h0M750.1 716.0h0M734.7 716.5h0M729.3 719.2h0M745.3 784.5h0M750.7 792.0h0M747.5 796.0h0M749.3 793.9h0M806.7 776.8h0M804.0 782.7h0M801.3 788.8h0M806.7 792.0h0M808.0 796.0h0M720.8 820.0h0M704.0 830.1h0M708.5 834.1h0M710.7 839.2h0M739.5 838.1h0M738.9 853.7h0M718.3 862.1h0M717.3 850.0h0M700.6 850.0h0M713.2 854.5h0M714.7 848.2h0M695.3 847.6h0M736.0 850.1h0M697.7 848.9h0M734.8 856.5h0M709.6 844.1h0M728.4 843.9h0M709.8 846.9h0M692.7 850.9h0M715.4 859.4h0M726.6 853.6h0M719.8 859.3h0M710.4 848.4h0M706.7 844.4h0M695.8 846.0h0M708.3 860.5h0M718.0 854.5h0M741.0 842.9h0M711.4 856.2h0M732.5 851.9h0M725.3 846.4h0M721.5 858.6h0M722.6 847.5h0M693.0 848.8h0M727.4 846.0h0M732.8 842.8h0M693.9 854.4h0M714.6 860.5h0M717.5 846.9h0M705.4 854.2h0M717.0 860.2h0M728.8 842.6h0M724.3 848.0h0M703.7 844.6h0M717.7 852.6h0M707.9 862.8h0M715.8 854.3h0M715.9 849.5h0M728.0 847.2h0M702.6 852.4h0M692.3 847.1h0M709.6 850.4h0M730.3 853.8h0M708.1 849.7h0M725.7 850.1h0M729.3 859.2h0M734.1 857.8h0M737.0 849.1h0M729.5 844.7h0M705.5 860.0h0M717.4 848.4h0M722.3 855.0h0M704.4 852.3h0M709.4 861.6h0M696.3 848.5h0M707.8 845.3h0M741.9 844.7h0M704.7 847.6h0M742.6 848.0h0M715.6 852.6h0M720.3 854.7h0M722.3 852.7h0M699.8 846.3h0M711.6 862.2h0M698.3 847.0h0M726.1 861.8h0M733.1 846.8h0M734.4 847.2h0M714.7 850.5h0M695.4 856.2h0M703.3 857.1h0M726.1 857.7h0M722.1 859.8h0M734.4 840.8h0M721.0 850.7h0M735.5 845.1h0M739.0 855.5h0M713.0 850.8h0M725.5 843.0h0M700.2 856.6h0M693.3 930.0h0M705.3 935.0h0M709.2 935.3h0M712.0 934.2h0M715.0 935.0h0M717.5 936.3h0M710.8 937.5h0M715.0 938.3h0M719.2 939.2h0M722.5 940.0h0M725.3 937.5h0M727.5 940.8h0M722.8 943.7h0M719.2 942.5h0M716.7 944.2h0M715.0 946.7h0M716.7 948.3h0M715.3 950.8h0M713.7 952.5h0M656.3 980.8h0M658.3 983.0h0M660.3 984.7h0M656.7 984.2h0M503.3 525.3h0M508.0 523.0h0M512.0 527.0h0M516.7 534.7h0M515.0 531.7h0M507.5 537.5h0M501.7 543.3h0M515.0 543.3h0M520.0 543.7h0M426.1 540.7h0M427.2 541.2h0M429.5 536.1h0M432.2 553.0h0M426.6 551.8h0M423.3 544.3h0M425.9 566.5h0M425.1 539.9h0M468.1 582.1h0M440.2 590.7h0M446.9 569.3h0M476.3 562.0h0M455.3 584.3h0M450.9 569.0h0M431.6 579.3h0M456.0 590.8h0M453.5 582.4h0M473.5 596.4h0M468.3 570.8h0M454.0 593.1h0M462.8 559.3h0M429.2 573.3h0M440.4 578.6h0M471.9 569.0h0M458.3 582.4h0M457.8 578.8h0M471.0 573.7h0M479.6 587.2h0M477.9 582.0h0M477.4 557.6h0M468.7 586.6h0M489.7 554.4h0M440.4 572.3h0M465.0 559.1h0M481.7 588.7h0M443.2 568.2h0M486.1 558.0h0M488.0 558.8h0M469.8 575.5h0M488.2 566.3h0M464.2 575.9h0M454.6 569.2h0M472.0 582.0h0M467.6 576.1h0M473.3 565.1h0M449.5 597.3h0M464.4 582.2h0M431.1 572.7h0M461.9 580.0h0M469.9 582.1h0M445.3 579.9h0M448.8 575.8h0M449.5 592.1h0M431.1 581.9h0M435.8 590.9h0M445.7 591.1h0M450.0 569.6h0M467.1 592.4h0M453.8 579.3h0M445.4 572.8h0M466.6 582.0h0M462.2 598.1h0M479.7 559.2h0M509.6 547.1h0M494.4 571.7h0M516.6 567.9h0M506.9 540.3h0M502.9 552.4h0M491.7 578.8h0M501.5 566.6h0M488.5 583.1h0M483.0 587.7h0M501.4 544.0h0M509.0 566.6h0M496.9 571.5h0M492.4 585.6h0M512.1 573.4h0M506.4 573.1h0M515.5 553.3h0M498.7 549.9h0M517.3 551.7h0M510.0 574.5h0M497.9 551.4h0M498.1 552.7h0M488.7 577.4h0M503.2 565.3h0M484.8 589.2h0M490.8 569.1h0M504.2 560.0h0M497.0 559.8h0M491.9 559.3h0M508.6 563.6h0M491.8 566.9h0M513.6 545.5h0M487.9 575.6h0M500.7 562.4h0M504.2 580.9h0M508.3 558.6h0M497.4 556.0h0M514.8 570.7h0M514.0 560.2h0M505.9 557.6h0M502.3 542.9h0M498.3 547.1h0M504.3 574.1h0M520.6 548.2h0M520.3 549.3h0M500.5 559.6h0M511.3 548.7h0M510.6 558.3h0M496.8 547.4h0M496.3 560.6h0M489.0 572.5h0M509.2 570.7h0M511.3 570.1h0M506.7 560.3h0M486.9 578.8h0M505.9 574.2h0"/>
<path stroke="#b498e4" d="M716.6 457.7h0"/>
<path stroke="#af91e6" d="M430.0 539.2h0M427.8 566.3h0M433.4 540.0h0M421.5 563.9h0M424.6 562.3h0M430.1 550.8h0M425.3 548.2h0M428.2 549.7h0M431.4 575.8h0M486.4 568.5h0M426.0 568.8h0M452.2 585.2h0M488.0 567.9h0M474.0 571.2h0M469.6 567.5h0M449.3 594.3h0M461.0 559.6h0M472.8 587.9h0M468.0 591.5h0M452.8 564.9h0M459.8 564.8h0M474.0 588.4h0M477.2 562.8h0M460.7 567.2h0M478.6 588.8h0M474.1 564.4h0M449.2 568.9h0M461.6 599.2h0M446.5 596.8h0M452.6 580.5h0M472.4 577.5h0M438.0 583.3h0M458.1 586.0h0M465.8 593.6h0M439.5 589.8h0M501.9 547.0h0M509.2 550.4h0M495.9 569.7h0M504.7 550.9h0M501.6 564.1h0M492.0 581.3h0M502.0 562.9h0M503.5 554.8h0M505.8 546.8h0M506.8 544.1h0M516.6 559.7h0M496.4 572.4h0M511.0 539.6h0M510.3 575.6h0"/>
<path stroke="#ae8fe6" d="M688.2 121.0h0M719.4 138.8h0M729.0 137.6h0M725.8 146.4h0M694.6 153.8h0M678.8 197.2h0M829.4 291.0h0M592.2 220.8h0M539.2 247.2h0M483.0 354.6h0M484.4 361.4h0M395.0 384.4h0M392.0 387.4h0M401.6 394.0h0M394.0 397.0h0M388.0 401.6h0M379.6 406.0h0M388.6 407.0h0M388.6 414.6h0M391.4 420.0h0M398.6 424.6h0M400.6 427.6h0M408.0 434.0h0M411.6 435.4h0M418.6 442.4h0M463.8 444.6h0M452.8 450.9h0M472.6 463.6h0M488.8 457.7h0M503.7 454.4h0M553.6 487.4h0M539.0 509.6h0M564.0 528.0h0M566.6 527.0h0M613.7 408.2h0M625.3 411.9h0M580.7 428.4h0M598.7 452.8h0M596.3 465.1h0M611.9 468.2h0M671.6 455.3h0M683.4 427.8h0M688.1 444.0h0M686.7 445.3h0M723.5 450.8h0M698.0 475.9h0M567.0 487.4h0M564.4 489.8h0M553.4 486.9h0M547.3 504.5h0M452.2 538.0h0M179.1 508.9h0M197.3 507.3h0M202.0 504.9h0M202.4 508.7h0M210.0 505.6h0M213.3 509.3h0M209.3 512.4h0M216.0 512.7h0M215.7 515.7h0M195.1 513.3h0M200.7 515.3h0M200.0 519.7h0M204.7 519.3h0M203.1 521.3h0M175.6 520.3h0M175.6 526.7h0M164.0 528.3h0M188.0 528.4h0M191.6 527.3h0M220.3 531.1h0M165.3 536.7h0M172.9 535.3h0M156.0 540.7h0M170.4 542.7h0M220.0 541.1h0M214.4 545.6h0M157.7 548.9h0M168.7 549.6h0M166.4 553.3h0M162.4 557.3h0M192.0 554.0h0M181.3 559.6h0M198.9 561.6h0M179.6 565.6h0M190.7 568.7h0M208.4 568.3h0M238.7 568.7h0M240.0 571.3h0M242.7 576.0h0M248.7 505.1h0M254.0 491.3h0M257.3 489.1h0M259.7 491.1h0M721.9 545.9h0M750.1 546.7h0M1011.2 633.3h0M1015.5 648.0h0M987.5 653.3h0M986.3 663.3h0M1000.2 664.2h0M1027.0 667.2h0M1021.8 673.5h0M946.2 678.0h0M981.3 678.7h0M966.3 688.0h0M948.0 696.3h0M958.2 700.5h0M1040.2 704.2h0M1014.3 715.3h0M917.7 717.0h0M927.7 722.7h0M969.7 722.2h0M1034.3 723.5h0M954.2 731.5h0M1048.5 735.5h0M985.0 760.8h0M999.0 760.2h0M958.8 764.7h0M975.3 769.8h0M376.2 827.4h0M518.0 1019.2h0M807.2 780.3h0M597.9 674.9h0M602.1 674.9h0M613.1 692.8h0M506.7 530.8h0M512.8 530.8h0"/>
<path stroke="#a988e8" d="M547.4 504.4h0M459.4 520.0h0M702.3 448.4h0M563.8 494.8h0M459.5 520.2h0M437.4 531.9h0M429.9 563.4h0M432.6 531.2h0M428.1 558.9h0M422.2 549.6h0M450.2 586.2h0M459.2 561.1h0M475.9 582.3h0M476.1 583.5h0M489.9 560.2h0M476.7 585.3h0M479.8 555.1h0M480.6 556.5h0M441.9 577.5h0M463.5 588.2h0M467.1 586.4h0M484.5 574.0h0M442.1 569.0h0M467.3 595.0h0M482.6 557.4h0M465.9 570.9h0M474.5 576.3h0M481.8 576.1h0M430.4 566.6h0M484.2 569.2h0M433.6 585.3h0M489.6 558.5h0M448.3 574.2h0M475.4 575.4h0M452.4 568.1h0M449.0 590.6h0M481.9 587.7h0M495.7 580.0h0M509.0 575.8h0M500.4 583.9h0M521.0 556.1h0M498.1 579.1h0M501.1 577.1h0M508.1 572.7h0M495.1 558.6h0M502.0 574.4h0M512.5 570.3h0M488.2 589.3h0M520.8 555.0h0M494.6 557.2h0"/>
<path stroke="#a27eea" d="M566.6 497.5h0M425.5 551.7h0M449.2 596.4h0M477.5 591.9h0M437.8 571.1h0M476.5 556.2h0M456.7 585.5h0M429.0 580.1h0M458.0 559.7h0M433.5 569.6h0M459.2 571.3h0M430.7 583.5h0M472.8 579.8h0M464.6 569.9h0M473.5 567.0h0M437.5 584.4h0M463.4 565.2h0M469.6 593.0h0M460.5 589.7h0M428.3 568.9h0M454.6 582.2h0M512.9 554.0h0M500.9 581.0h0M492.7 571.8h0M515.9 567.0h0M517.8 543.3h0M505.2 579.9h0M499.1 565.2h0"/>
<path stroke="#9b75ec" d="M703.7 446.5h0M423.1 547.3h0M427.9 542.4h0M473.6 568.7h0M470.2 576.5h0M471.7 557.9h0M464.1 567.2h0M472.3 589.9h0M468.5 563.4h0M431.0 585.7h0M460.1 592.1h0M425.7 571.7h0M456.5 587.7h0M430.8 574.2h0M470.7 584.1h0M447.7 587.3h0M505.6 576.3h0M502.8 578.5h0M501.5 565.6h0M492.4 556.4h0"/>
<path stroke="#936bee" d="M508.3 544.2h0M1029.0 681.7h0M955.5 715.3h0M934.5 775.3h0M456.0 597.7h0M448.4 597.1h0M467.9 574.0h0M444.2 566.8h0M458.9 565.2h0M440.6 568.3h0M505.0 544.9h0"/>
<path stroke="#8f66f0" d="M707.4 458.6h0M698.6 463.2h0M724.6 473.1h0"/>
<path stroke="#8b62f1" d="M559.3 496.6h0M427.8 538.6h0M431.0 555.5h0M424.9 554.7h0M439.7 593.5h0M457.5 584.8h0M479.8 573.8h0M460.6 569.9h0M466.7 566.4h0M445.0 577.6h0"/>
<path stroke="#8258f3" d="M563.8 501.2h0M421.7 551.7h0M442.5 592.8h0M501.7 579.2h0"/>
<path stroke="#794ef5" d="M559.3 502.6h0M429.9 560.2h0M419.2 549.0h0M441.8 566.4h0M436.8 571.4h0M440.4 584.1h0M460.5 596.6h0"/>
<path stroke="#7349f6" d="M546.3 313.7h0"/>
<path stroke="#6e44f7" d="M425.0 545.0h0M420.8 560.8h0M472.5 593.7h0M463.2 560.5h0"/>
<path stroke="#6139f9" d="M567.1 502.1h0M423.3 559.7h0M451.9 575.2h0M445.2 570.1h0M447.6 575.7h0M464.2 596.0h0M434.9 571.1h0M435.0 583.2h0M469.0 596.6h0M498.0 559.5h0"/>
<path stroke="#532dfa" d="M435.0 586.3h0"/>
<path stroke="#2b12fe" d="M554.7 497.9h0"/>
<path stroke="#230efe" d="M430.5 584.5h0M441.2 578.3h0"/>
</g>
<!-- axes -->
<path d="M95.5 51V1121M94 1119.5H1117.5" stroke="#000" stroke-width="3.1" fill="none"/>
<path d="M90 277.3H95M90 570.9H95M90 864.5H95M141.7 1120V1124.5M307.5 1120V1124.5M473.2 1120V1124.5M639 1120V1124.5M804.7 1120V1124.5M970.5 1120V1124.5" stroke="#000" stroke-width="3" fill="none"/>
<g font-size="29.3" text-anchor="end">
<text transform="translate(88,288) scale(1,1.05)">10</text>
<text transform="translate(88,581.6) scale(1,1.05)">0</text>
<text transform="translate(88,875.2) scale(1,1.05)">-10</text>
</g>
<g font-size="29.3" text-anchor="middle">
<text transform="translate(141.7,1148.3) scale(1,1.05)">-15</text>
<text transform="translate(307.5,1148.3) scale(1,1.05)">-10</text>
<text transform="translate(473.2,1148.3) scale(1,1.05)">-5</text>
<text transform="translate(639,1148.3) scale(1,1.05)">0</text>
<text transform="translate(804.7,1148.3) scale(1,1.05)">5</text>
<text transform="translate(970.5,1148.3) scale(1,1.05)">10</text>
</g>
<text transform="translate(606,1180.7) scale(1,1.05)" font-size="30" text-anchor="middle">umapNC_1</text>
<text transform="translate(34.3,586) rotate(-90) scale(1,1.05)" font-size="30.3" text-anchor="middle">umapNC_2</text>
<text transform="translate(606,37) scale(1,1.04)" font-size="34" font-weight="bold" text-anchor="middle">Hpgds</text>
<!-- legend -->
<rect x="1130" y="548" width="15.4" height="76" fill="url(#lg)"/>
<path d="M1130 565.4h3.2M1142.2 565.4h3.2M1130 584.9h3.2M1142.2 584.9h3.2M1130 604.4h3.2M1142.2 604.4h3.2" stroke="#fff" stroke-width="0.8" opacity="0.8"/>
<g font-size="23.6">
<text transform="translate(1154,575.2) scale(1,1.08)">1.5</text>
<text transform="translate(1154,594.7) scale(1,1.08)">1.0</text>
<text transform="translate(1154,614.2) scale(1,1.08)">0.5</text>
<text transform="translate(1154,633.7) scale(1,1.08)">0.0</text>
</g>
</svg>
</body></html>
